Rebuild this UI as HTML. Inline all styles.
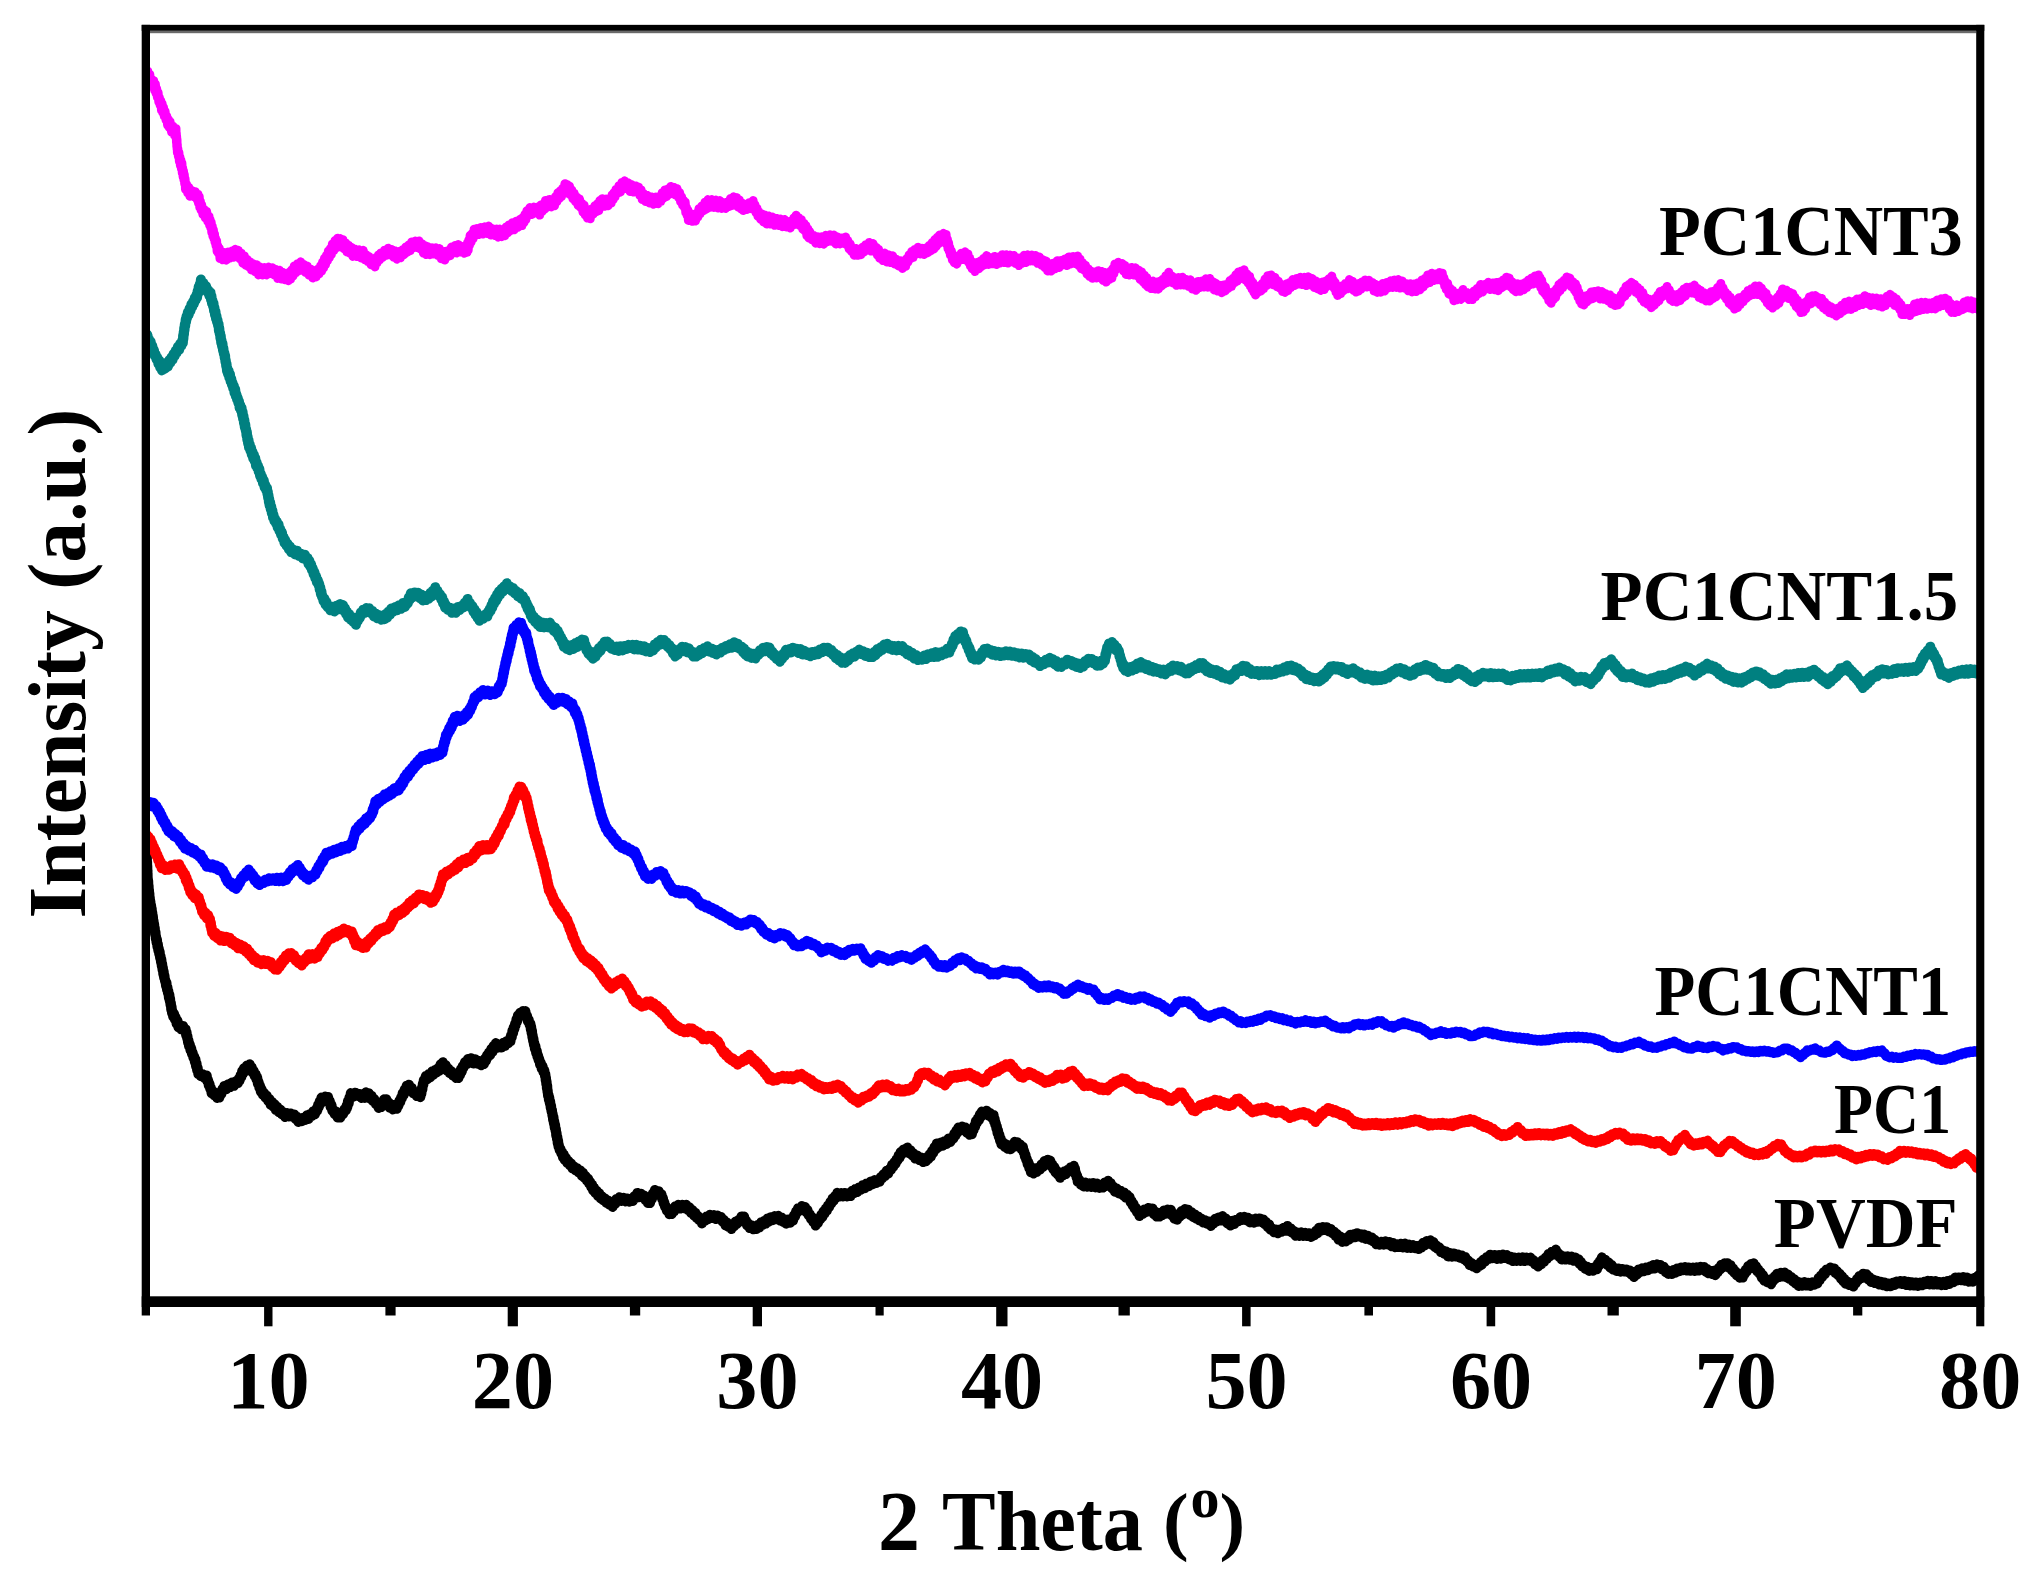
<!DOCTYPE html>
<html lang="en"><head><meta charset="utf-8"><title>XRD patterns</title>
<style>
html,body{margin:0;padding:0;background:#fff;}
body{width:2043px;height:1581px;overflow:hidden;}
svg{display:block;}
text{font-family:"Liberation Serif","Times New Roman",serif;font-weight:bold;fill:#000;}
.crv{fill:none;stroke-linejoin:round;stroke-linecap:butt;}
</style></head><body>
<svg width="2043" height="1581" viewBox="0 0 2043 1581">
<rect x="0" y="0" width="2043" height="1581" fill="#fff"/>
<clipPath id="plot"><rect x="146" y="29" width="1834" height="1273"/></clipPath>
<g clip-path="url(#plot)">
<polyline class="crv" stroke="#000000" stroke-width="10" points="145.9,838.8 146.0,844.8 146.1,842.0 146.2,848.0 146.3,846.2 146.4,852.2 146.5,850.0 146.6,856.5 146.7,854.5 146.8,859.5 146.9,857.6 147.0,863.9 147.1,861.6 147.2,867.3 147.3,865.9 147.4,872.1 147.5,870.1 147.5,876.3 147.6,873.2 147.7,879.1 147.8,878.1 148.0,883.6 148.2,881.0 148.4,887.4 148.6,885.8 148.8,891.3 149.0,889.9 149.2,895.0 149.4,893.4 149.6,899.3 149.8,897.5 150.1,902.9 150.4,901.5 150.7,907.1 151.1,905.3 151.4,910.5 151.7,908.6 152.0,915.0 152.3,912.7 152.6,918.5 152.9,916.2 153.3,923.2 153.6,921.2 153.9,926.5 154.2,924.4 154.5,930.9 154.8,928.1 155.1,934.5 155.5,932.1 155.8,938.7 156.1,936.6 156.5,942.5 157.0,939.9 157.4,946.7 157.9,944.3 158.3,950.4 158.8,948.7 159.2,953.9 159.7,951.8 160.1,958.0 160.6,956.4 161.0,962.1 161.4,959.7 161.8,966.1 162.2,964.0 162.5,969.8 162.9,967.8 163.3,974.1 163.7,971.7 164.1,977.6 164.5,975.6 165.0,981.1 165.5,980.1 166.0,985.8 166.5,982.9 167.0,989.6 167.5,987.5 167.9,993.0 168.4,991.3 168.9,997.9 169.4,994.9 169.8,1001.3 170.1,998.7 170.5,1004.8 170.9,1003.1 171.2,1009.6 171.6,1006.9 172.0,1012.9 172.4,1011.2 173.2,1016.7 174.1,1013.8 174.9,1019.5 175.8,1017.5 176.6,1023.9 177.5,1020.8 178.4,1027.2 179.2,1024.3 181.2,1029.3 183.1,1025.9 185.1,1030.5 185.6,1029.1 186.1,1035.0 186.6,1032.4 187.1,1038.1 187.5,1036.4 188.0,1042.4 188.5,1040.5 189.0,1046.1 189.8,1044.3 190.5,1050.3 191.2,1048.1 192.0,1054.1 192.7,1052.7 193.4,1057.7 194.2,1056.4 194.9,1062.1 195.5,1059.6 196.0,1066.2 196.6,1063.6 197.1,1070.1 197.7,1068.1 198.3,1074.1 198.8,1071.6 200.8,1076.2 202.7,1074.3 204.7,1078.1 206.7,1075.4 207.4,1081.3 208.1,1080.1 208.8,1085.6 209.5,1083.7 210.2,1088.9 210.9,1087.9 211.6,1093.3 212.9,1091.0 214.3,1095.4 215.7,1092.8 217.1,1097.9 218.4,1095.6 219.4,1097.5 220.4,1092.6 221.4,1094.1 222.4,1088.9 223.3,1090.7 224.3,1086.0 226.3,1089.2 228.2,1084.2 230.2,1087.1 232.2,1082.5 234.1,1085.8 236.1,1081.2 238.0,1083.0 238.9,1078.4 239.7,1080.4 240.6,1075.0 241.4,1077.0 242.2,1071.0 243.1,1073.5 243.9,1068.2 245.4,1071.3 246.9,1065.6 248.3,1068.8 249.8,1064.2 250.8,1069.6 251.8,1067.3 252.7,1072.8 253.7,1070.7 254.7,1076.1 255.7,1074.2 256.4,1079.4 257.2,1077.2 257.9,1083.9 258.6,1081.8 259.4,1087.8 260.1,1085.7 260.8,1091.8 261.6,1089.2 262.9,1094.8 264.2,1093.0 265.5,1097.6 266.8,1095.6 268.1,1100.9 269.4,1098.9 270.7,1104.9 272.0,1101.8 273.3,1106.6 274.6,1104.1 275.9,1110.1 277.3,1106.9 278.8,1112.1 280.4,1109.6 282.0,1114.3 283.5,1112.2 285.1,1117.0 287.1,1113.1 289.0,1116.4 291.0,1113.5 292.9,1117.0 294.3,1114.4 295.7,1119.1 297.1,1116.8 298.4,1121.9 299.8,1118.5 301.6,1121.3 303.3,1117.7 305.1,1120.1 306.9,1115.2 308.6,1119.0 310.2,1114.0 311.8,1116.1 313.3,1111.3 314.9,1114.4 316.5,1108.6 317.3,1110.7 318.1,1104.8 318.9,1107.2 319.7,1101.3 320.6,1103.6 321.4,1097.6 323.3,1100.7 325.3,1096.5 327.3,1098.8 328.1,1096.9 328.9,1102.8 329.8,1101.0 330.6,1107.1 331.5,1104.8 332.3,1110.8 333.1,1109.3 334.6,1114.1 336.1,1111.6 337.5,1117.4 339.0,1114.5 340.4,1117.6 341.8,1112.2 343.1,1114.1 344.5,1109.1 345.9,1110.4 346.6,1105.6 347.3,1107.4 348.0,1100.9 348.7,1103.4 349.4,1097.5 350.1,1099.3 350.8,1093.1 353.1,1096.7 355.4,1092.7 357.6,1095.9 359.6,1093.9 361.6,1097.9 363.5,1094.9 364.8,1097.9 366.1,1092.3 367.5,1095.2 368.8,1093.2 370.2,1098.7 371.6,1095.8 372.9,1101.0 374.3,1099.1 375.8,1104.1 377.3,1102.6 378.7,1107.9 380.2,1105.7 381.2,1107.1 382.2,1101.5 383.1,1104.2 384.1,1099.3 385.1,1100.7 386.3,1099.2 387.5,1104.5 388.6,1102.5 389.8,1107.8 391.0,1105.3 392.9,1109.5 394.9,1104.7 396.9,1108.7 397.7,1103.8 398.5,1105.6 399.4,1100.6 400.2,1102.4 401.1,1097.3 401.9,1098.3 402.7,1092.9 403.7,1095.0 404.7,1089.4 405.7,1091.3 406.7,1085.7 407.6,1086.9 409.0,1084.7 410.4,1091.1 411.8,1087.8 413.1,1093.2 414.5,1091.7 416.5,1096.0 418.4,1092.2 420.4,1097.2 420.9,1091.2 421.4,1093.5 421.9,1087.8 422.4,1089.4 422.8,1083.8 423.3,1085.2 423.8,1080.1 424.3,1081.3 425.9,1076.0 427.5,1079.1 429.0,1074.0 430.6,1077.0 432.2,1071.3 433.6,1074.6 435.1,1070.0 436.6,1072.5 438.0,1068.1 439.3,1070.7 440.5,1064.5 441.7,1067.1 442.9,1062.2 444.3,1067.5 445.7,1065.0 447.1,1070.7 448.4,1068.5 449.8,1073.2 451.4,1071.3 452.9,1075.6 454.5,1073.3 456.1,1077.9 457.6,1076.2 458.5,1078.0 459.3,1072.6 460.2,1074.9 461.0,1069.0 461.8,1071.6 462.7,1066.0 463.5,1067.8 465.0,1062.1 466.5,1064.4 467.9,1059.0 469.4,1061.6 471.4,1058.2 473.3,1063.5 475.3,1059.2 477.3,1063.7 479.2,1061.1 481.2,1065.2 483.1,1061.5 484.1,1064.0 485.1,1058.3 486.1,1060.6 487.1,1055.0 488.0,1057.2 489.0,1052.4 490.2,1055.1 491.3,1048.9 492.5,1052.1 493.6,1045.9 494.7,1049.0 495.9,1043.1 497.9,1047.7 500.0,1045.0 501.6,1047.5 503.3,1042.7 504.9,1046.1 506.5,1041.2 508.2,1043.4 509.8,1038.5 510.5,1041.4 511.1,1035.0 511.8,1037.1 512.4,1030.7 513.1,1033.1 513.7,1027.3 514.4,1029.1 515.1,1023.6 515.8,1024.8 516.5,1019.2 517.2,1021.3 517.9,1015.4 518.6,1017.0 520.1,1012.7 521.6,1015.1 523.0,1011.0 524.5,1013.3 525.4,1011.1 526.2,1017.4 527.0,1015.6 527.9,1021.6 528.7,1019.7 529.6,1024.8 530.4,1023.3 530.8,1029.3 531.2,1027.0 531.6,1033.1 532.0,1030.9 532.4,1037.4 532.7,1035.4 533.1,1041.0 533.5,1039.0 533.9,1044.6 534.3,1043.0 534.9,1048.9 535.5,1046.4 536.2,1053.2 536.8,1051.0 537.4,1056.8 538.0,1055.2 538.6,1060.1 539.2,1058.6 540.1,1064.9 540.9,1062.9 541.7,1068.7 542.6,1066.1 543.4,1072.1 544.3,1070.2 545.1,1076.6 545.4,1074.5 545.7,1080.4 546.0,1078.0 546.3,1084.2 546.6,1081.8 546.9,1088.4 547.2,1085.6 547.5,1092.0 547.7,1090.4 548.0,1095.6 548.5,1094.3 548.9,1099.8 549.3,1097.6 549.8,1103.2 550.2,1101.6 550.7,1107.8 551.1,1105.9 551.5,1111.5 552.0,1110.1 552.4,1115.7 552.7,1114.1 553.1,1119.8 553.5,1117.2 553.9,1123.4 554.3,1121.7 554.7,1127.6 555.1,1124.9 555.5,1130.7 555.9,1129.0 556.2,1135.4 556.6,1133.1 557.0,1139.1 557.4,1137.2 557.7,1143.3 558.1,1140.6 558.5,1146.6 558.8,1144.7 559.7,1150.3 560.5,1148.8 561.3,1153.5 562.2,1152.2 563.0,1157.5 563.9,1154.6 564.7,1160.0 566.0,1158.0 567.3,1163.0 568.6,1161.1 569.9,1165.4 571.2,1163.6 572.5,1168.5 574.1,1166.4 575.7,1170.3 577.3,1168.3 578.8,1172.5 580.4,1170.4 581.7,1175.6 583.0,1172.8 584.3,1177.8 585.6,1176.0 586.9,1180.7 588.2,1178.7 589.2,1183.7 590.2,1181.9 591.2,1187.1 592.2,1184.7 593.1,1190.5 594.1,1187.7 595.4,1193.1 596.7,1190.9 598.0,1196.0 599.3,1193.2 600.7,1198.4 602.0,1196.2 603.4,1200.4 604.9,1198.5 606.4,1202.8 607.8,1200.4 609.5,1204.7 611.1,1201.9 612.7,1206.9 614.0,1201.2 615.2,1204.0 616.4,1198.9 617.6,1200.6 619.6,1197.2 621.6,1200.9 623.5,1197.8 625.5,1201.4 627.5,1198.4 629.4,1201.7 631.4,1199.1 632.8,1201.0 634.3,1196.3 635.8,1198.0 637.3,1192.9 639.2,1197.2 641.2,1193.8 643.1,1197.8 644.3,1195.6 645.5,1200.1 646.7,1198.8 647.8,1202.9 649.0,1200.9 650.0,1203.1 651.0,1197.1 652.0,1199.1 652.9,1193.3 653.9,1195.5 654.9,1189.9 656.9,1194.3 658.8,1191.3 660.8,1196.2 661.5,1194.3 662.2,1199.3 662.9,1197.9 663.6,1203.5 664.3,1202.1 665.0,1206.9 665.7,1206.0 666.9,1210.8 668.1,1208.9 669.4,1214.2 670.6,1211.7 671.8,1214.1 672.9,1208.6 674.1,1211.4 675.3,1206.3 676.5,1208.7 678.4,1204.8 680.4,1208.6 682.4,1204.8 684.3,1208.3 686.3,1204.8 687.8,1209.9 689.4,1207.2 691.0,1212.8 692.5,1210.1 694.1,1215.5 695.4,1212.8 696.7,1218.0 698.0,1215.9 699.3,1220.2 700.7,1218.1 702.0,1223.5 703.5,1218.6 705.1,1220.8 706.7,1216.4 708.2,1219.2 709.8,1214.8 711.8,1217.9 713.7,1215.1 715.7,1219.0 717.6,1215.6 719.6,1219.0 721.1,1217.0 722.5,1221.6 724.0,1220.1 725.5,1225.5 727.0,1222.4 728.4,1226.9 729.9,1224.4 731.4,1229.1 732.7,1224.7 734.1,1226.3 735.5,1221.6 736.9,1224.0 738.2,1220.1 739.9,1221.8 741.5,1216.4 743.1,1218.1 744.1,1216.5 745.1,1222.0 746.1,1220.4 747.1,1225.4 748.0,1223.4 749.8,1228.1 751.5,1225.3 753.2,1229.3 754.9,1226.8 756.5,1229.0 758.0,1224.9 759.6,1227.3 761.2,1222.2 762.7,1224.9 764.3,1220.9 765.9,1223.6 767.5,1218.5 769.0,1221.5 770.6,1217.2 772.5,1220.3 774.5,1216.1 776.5,1219.2 778.4,1215.8 780.0,1220.4 781.6,1217.4 783.1,1221.8 784.7,1219.5 786.3,1223.7 788.2,1219.5 790.2,1222.7 792.2,1218.3 793.1,1220.5 794.1,1215.0 795.1,1216.5 796.1,1211.4 797.1,1212.8 798.0,1208.2 800.0,1210.6 802.0,1206.0 803.9,1208.7 805.1,1207.0 806.3,1212.2 807.5,1210.0 808.6,1215.3 809.8,1214.2 811.0,1218.9 812.2,1217.3 813.3,1222.1 814.5,1221.1 815.7,1225.6 816.8,1221.0 817.9,1223.3 819.0,1218.3 820.2,1219.4 821.3,1214.7 822.4,1217.1 823.5,1211.3 824.6,1213.7 825.8,1208.6 826.9,1210.6 828.0,1205.5 829.1,1207.1 830.3,1202.1 831.4,1203.4 832.5,1198.6 833.7,1200.6 834.9,1196.2 836.1,1197.8 837.3,1192.8 839.2,1196.6 841.2,1193.1 843.1,1196.4 845.1,1192.9 847.1,1196.5 849.0,1193.0 850.7,1196.1 852.3,1190.7 853.9,1193.3 855.6,1188.9 857.2,1192.1 858.8,1187.4 860.8,1189.7 862.7,1185.2 864.7,1188.3 866.7,1183.4 868.6,1186.3 870.6,1181.5 872.5,1184.4 874.5,1180.1 876.5,1183.0 878.4,1179.8 879.6,1181.7 880.8,1177.0 882.0,1178.6 883.5,1174.1 885.1,1175.9 886.7,1170.7 888.2,1173.6 889.8,1168.8 891.0,1169.8 892.1,1164.8 893.3,1166.7 894.5,1162.2 895.7,1163.6 896.6,1159.2 897.6,1160.3 898.6,1155.4 899.6,1157.8 900.6,1152.1 901.5,1154.6 903.5,1149.5 905.5,1152.2 907.4,1147.5 909.0,1153.2 910.5,1150.3 912.1,1155.2 913.7,1153.6 915.2,1158.6 917.2,1155.4 919.2,1160.0 921.1,1157.4 923.1,1162.1 925.0,1159.4 926.2,1161.2 927.4,1156.9 928.6,1158.9 929.7,1154.3 930.9,1156.6 932.1,1150.9 933.3,1152.9 934.4,1147.1 935.6,1149.4 936.8,1143.5 938.7,1147.0 940.7,1142.6 942.7,1145.7 944.6,1141.2 946.6,1144.0 948.5,1138.5 950.5,1141.9 952.4,1137.4 953.4,1138.5 954.4,1133.3 955.4,1135.7 956.4,1130.5 957.3,1133.0 958.3,1127.6 960.3,1130.5 962.2,1126.5 964.2,1129.4 965.6,1127.6 966.9,1132.8 968.3,1129.8 969.7,1134.8 971.0,1132.9 971.9,1134.3 972.7,1128.7 973.5,1130.4 974.3,1125.6 975.1,1126.8 975.9,1121.0 976.9,1123.1 977.9,1118.3 978.9,1120.4 979.9,1114.3 980.8,1117.2 981.8,1111.6 984.3,1114.6 986.7,1110.7 988.4,1115.5 990.1,1113.1 991.8,1117.7 993.6,1115.0 994.1,1121.5 994.7,1119.2 995.2,1124.5 995.8,1123.0 996.4,1128.8 996.9,1126.6 997.5,1133.0 998.1,1130.7 998.8,1136.9 999.4,1134.9 1000.1,1141.0 1000.7,1138.5 1001.4,1144.3 1003.0,1142.4 1004.5,1146.7 1006.1,1144.3 1007.7,1148.8 1009.2,1146.9 1010.6,1149.3 1012.0,1144.8 1013.3,1147.2 1014.7,1141.8 1016.1,1144.3 1017.4,1142.2 1018.8,1146.7 1020.2,1144.5 1021.6,1149.4 1022.9,1146.7 1023.6,1152.3 1024.2,1151.0 1024.9,1156.7 1025.5,1154.7 1026.2,1159.9 1026.8,1158.9 1027.7,1164.5 1028.5,1162.4 1029.3,1168.4 1030.1,1165.9 1030.9,1172.3 1031.7,1169.9 1033.5,1173.5 1035.2,1168.3 1036.9,1171.9 1038.6,1167.7 1040.1,1169.4 1041.5,1164.3 1043.0,1167.0 1044.5,1161.1 1046.1,1164.6 1047.7,1159.8 1049.4,1162.9 1050.3,1160.6 1051.3,1166.3 1052.3,1164.3 1053.3,1169.3 1054.3,1166.8 1055.4,1172.3 1056.6,1170.4 1057.8,1174.6 1059.0,1172.6 1060.1,1177.8 1061.6,1172.7 1063.1,1175.4 1064.5,1171.3 1066.0,1174.1 1067.6,1169.7 1069.1,1171.4 1070.7,1167.2 1072.3,1169.7 1073.8,1165.7 1074.4,1170.5 1075.0,1168.8 1075.5,1174.4 1076.1,1173.0 1076.6,1177.6 1077.2,1175.9 1077.7,1181.8 1079.2,1179.6 1080.7,1184.5 1082.2,1182.2 1083.6,1186.4 1085.6,1182.6 1087.5,1186.7 1089.5,1183.2 1091.5,1186.9 1093.4,1182.9 1095.4,1187.4 1097.3,1183.6 1099.3,1187.9 1101.2,1184.8 1103.0,1187.5 1104.7,1182.5 1106.4,1185.9 1108.1,1180.8 1109.5,1186.3 1110.8,1183.2 1112.2,1188.4 1113.6,1186.8 1114.9,1191.7 1116.9,1188.6 1118.9,1193.4 1120.8,1190.8 1122.8,1195.2 1124.2,1192.4 1125.7,1197.6 1127.2,1194.7 1128.7,1198.8 1129.6,1197.0 1130.6,1202.4 1131.6,1200.9 1132.6,1205.5 1133.5,1203.7 1134.5,1208.5 1135.8,1207.6 1137.0,1212.2 1138.2,1210.3 1139.4,1216.1 1141.1,1210.9 1142.8,1213.9 1144.6,1209.4 1146.3,1212.0 1148.7,1207.9 1151.2,1211.0 1152.5,1208.5 1153.9,1214.2 1155.3,1211.7 1156.7,1216.6 1158.0,1214.5 1159.5,1216.6 1161.0,1212.4 1162.4,1215.0 1163.9,1210.4 1165.9,1213.7 1167.8,1209.5 1169.8,1212.1 1170.9,1209.7 1172.1,1215.7 1173.3,1213.7 1174.5,1218.8 1175.6,1217.4 1177.1,1219.7 1178.6,1213.9 1180.0,1216.5 1181.5,1211.0 1183.1,1214.3 1184.8,1209.1 1186.4,1211.8 1188.1,1209.7 1189.8,1214.7 1191.6,1212.3 1193.3,1217.1 1194.8,1214.4 1196.4,1218.6 1198.0,1216.4 1199.5,1220.4 1201.1,1218.4 1203.1,1222.4 1205.0,1220.3 1207.0,1223.7 1208.9,1221.6 1210.9,1226.0 1212.4,1221.1 1213.8,1223.5 1215.3,1218.8 1216.8,1221.5 1218.7,1217.6 1220.7,1220.6 1222.6,1216.1 1224.2,1220.9 1225.8,1218.4 1227.3,1223.3 1228.9,1220.8 1230.5,1225.6 1232.4,1220.7 1234.4,1223.9 1236.3,1219.7 1238.3,1221.3 1240.3,1217.1 1242.2,1220.1 1244.2,1216.8 1246.1,1220.2 1248.1,1217.8 1250.0,1222.4 1252.0,1219.3 1254.0,1222.7 1255.9,1218.5 1257.9,1221.7 1259.8,1218.4 1261.8,1222.2 1263.3,1219.4 1264.7,1224.2 1266.2,1222.1 1267.7,1227.0 1269.1,1224.4 1270.5,1229.6 1272.0,1228.2 1273.9,1232.2 1275.9,1229.4 1277.8,1233.2 1279.8,1229.6 1281.7,1231.8 1283.7,1227.8 1285.7,1230.8 1287.6,1225.9 1289.2,1231.1 1290.8,1228.4 1292.3,1232.8 1293.9,1231.1 1295.5,1235.7 1297.4,1232.5 1299.4,1235.9 1301.3,1232.3 1303.3,1235.9 1305.2,1232.8 1307.2,1236.1 1309.2,1233.2 1311.1,1236.9 1313.1,1233.4 1314.5,1235.3 1316.0,1230.8 1317.5,1233.2 1318.9,1227.7 1320.9,1230.8 1322.9,1226.9 1324.8,1230.1 1326.8,1227.2 1328.7,1231.4 1330.7,1228.9 1332.7,1233.4 1334.1,1231.7 1335.6,1236.0 1337.1,1234.1 1338.5,1239.6 1340.5,1236.6 1342.4,1241.9 1344.4,1239.2 1345.9,1241.4 1347.3,1237.1 1348.8,1239.7 1350.3,1234.7 1352.0,1237.7 1353.7,1234.3 1355.4,1237.2 1357.1,1233.2 1358.9,1236.5 1360.7,1234.2 1362.4,1237.8 1364.2,1234.6 1365.9,1238.9 1367.9,1235.7 1369.9,1239.9 1371.8,1237.4 1373.3,1241.6 1374.7,1239.7 1376.2,1244.3 1377.7,1242.2 1379.6,1244.8 1381.6,1241.7 1383.6,1244.7 1385.5,1241.3 1387.5,1244.4 1389.4,1242.0 1391.4,1246.2 1393.3,1243.0 1395.3,1247.3 1397.3,1244.3 1399.2,1247.1 1401.2,1243.7 1403.1,1247.4 1405.1,1243.6 1407.1,1247.9 1409.0,1244.6 1411.0,1248.0 1412.9,1245.1 1414.9,1248.2 1416.8,1245.9 1418.8,1249.0 1420.3,1245.3 1421.7,1247.3 1423.2,1242.7 1424.7,1245.4 1426.6,1241.1 1428.6,1243.7 1430.5,1240.3 1432.0,1244.7 1433.5,1242.1 1435.0,1247.0 1436.4,1245.4 1437.9,1249.0 1439.4,1247.5 1440.8,1252.0 1442.3,1250.2 1444.3,1253.8 1446.2,1251.6 1448.2,1256.5 1450.1,1253.1 1452.1,1256.7 1454.0,1253.4 1456.0,1256.6 1458.0,1254.4 1459.9,1257.7 1461.9,1255.4 1463.8,1259.3 1465.3,1257.0 1466.8,1261.5 1468.2,1260.5 1469.7,1265.1 1471.4,1262.9 1473.1,1266.6 1474.8,1264.7 1476.6,1268.3 1477.9,1264.7 1479.3,1266.1 1480.7,1262.0 1482.0,1264.5 1483.4,1259.5 1485.1,1261.4 1486.8,1257.0 1488.6,1259.0 1490.3,1254.7 1492.5,1258.2 1494.8,1254.9 1497.1,1258.9 1499.1,1255.1 1501.0,1258.7 1503.0,1254.6 1504.9,1258.1 1506.9,1255.1 1508.9,1259.4 1510.8,1256.7 1512.8,1261.1 1514.7,1257.6 1516.7,1261.0 1518.7,1257.6 1520.6,1260.9 1522.6,1257.2 1524.5,1261.1 1526.5,1257.6 1528.4,1260.5 1530.4,1257.6 1532.0,1261.8 1533.5,1260.3 1535.1,1264.4 1536.7,1262.3 1538.2,1266.6 1539.7,1262.5 1541.2,1264.4 1542.6,1259.9 1544.1,1261.8 1545.6,1257.5 1547.0,1258.9 1548.5,1254.0 1550.0,1256.1 1551.9,1251.7 1553.9,1254.5 1555.9,1249.6 1557.0,1254.7 1558.2,1253.0 1559.4,1257.1 1560.6,1255.1 1561.7,1259.6 1563.7,1256.2 1565.6,1259.6 1567.6,1256.3 1569.6,1259.7 1571.5,1256.6 1573.5,1260.8 1575.4,1257.5 1577.4,1261.3 1578.6,1259.3 1579.7,1264.0 1580.9,1261.9 1582.1,1266.4 1583.3,1264.9 1585.2,1268.9 1587.2,1266.7 1589.1,1270.9 1591.1,1268.1 1593.1,1270.8 1595.0,1266.9 1597.0,1269.2 1597.9,1263.5 1598.9,1265.8 1599.9,1260.9 1600.9,1262.6 1601.9,1257.3 1603.6,1262.1 1605.3,1259.8 1607.0,1264.7 1608.7,1262.6 1610.2,1267.5 1611.7,1265.1 1613.1,1269.6 1614.6,1267.9 1616.5,1271.0 1618.5,1268.4 1620.5,1271.7 1622.4,1268.9 1624.4,1271.6 1626.3,1269.4 1628.3,1272.3 1629.8,1270.4 1631.2,1274.5 1632.7,1272.6 1634.2,1277.1 1635.6,1271.7 1637.1,1274.3 1638.6,1269.4 1640.0,1272.0 1642.0,1268.3 1644.0,1271.2 1645.9,1267.5 1647.9,1270.2 1649.8,1266.6 1651.6,1268.8 1653.4,1265.0 1655.1,1268.4 1656.9,1264.3 1658.6,1267.2 1660.4,1264.9 1662.1,1269.4 1663.8,1266.7 1665.5,1272.0 1667.0,1270.0 1668.5,1273.9 1670.0,1271.9 1671.8,1274.1 1673.6,1269.9 1675.5,1272.7 1677.3,1268.4 1679.2,1271.3 1681.1,1267.6 1683.1,1270.2 1685.0,1267.0 1687.0,1270.6 1688.9,1267.4 1690.9,1270.8 1692.9,1267.6 1694.8,1271.0 1696.8,1267.2 1698.7,1270.6 1700.7,1266.8 1702.7,1269.6 1704.1,1267.0 1705.6,1271.5 1707.1,1269.1 1708.5,1273.3 1710.2,1270.7 1712.0,1273.9 1713.7,1270.8 1715.4,1275.2 1716.6,1270.1 1717.7,1272.3 1718.9,1267.7 1720.1,1269.6 1721.3,1264.7 1722.9,1267.5 1724.5,1263.2 1726.1,1265.2 1727.6,1263.2 1729.1,1267.8 1730.6,1265.2 1732.0,1270.5 1733.2,1268.6 1734.4,1272.8 1735.5,1271.4 1736.7,1275.2 1737.9,1274.1 1739.9,1277.7 1741.8,1275.4 1742.8,1277.6 1743.8,1272.3 1744.7,1274.1 1745.7,1269.8 1746.7,1271.6 1748.2,1266.1 1749.6,1268.7 1751.1,1263.9 1752.6,1265.2 1753.7,1263.3 1754.9,1268.5 1756.0,1266.0 1757.1,1271.2 1758.3,1269.4 1759.4,1273.6 1760.6,1272.1 1761.8,1277.7 1763.0,1275.1 1764.1,1280.5 1765.3,1278.8 1767.3,1282.3 1769.2,1279.7 1771.2,1284.3 1772.4,1278.8 1773.5,1280.8 1774.7,1276.4 1775.9,1278.4 1777.1,1273.8 1779.0,1277.1 1781.0,1272.8 1782.9,1276.5 1784.9,1272.6 1786.5,1277.2 1788.0,1274.6 1789.6,1279.0 1791.2,1276.9 1792.7,1281.2 1794.2,1279.2 1795.7,1283.5 1797.1,1281.4 1798.6,1285.9 1800.5,1282.4 1802.5,1285.8 1804.5,1282.1 1806.4,1285.6 1808.4,1282.8 1810.3,1285.9 1812.3,1282.2 1814.3,1284.8 1816.2,1281.7 1817.4,1283.4 1818.6,1278.0 1819.7,1280.3 1820.9,1275.5 1822.1,1277.1 1823.6,1272.3 1825.0,1274.1 1826.5,1269.4 1828.0,1270.8 1830.4,1267.5 1832.9,1270.1 1834.2,1268.5 1835.6,1273.2 1837.0,1271.1 1838.3,1275.3 1839.7,1273.7 1840.9,1278.7 1842.1,1276.2 1843.2,1281.2 1844.4,1279.0 1845.6,1283.7 1847.5,1281.7 1849.5,1285.1 1851.5,1282.9 1853.4,1286.6 1854.6,1282.0 1855.8,1283.3 1856.9,1279.2 1858.1,1280.3 1859.3,1276.0 1861.2,1278.3 1863.2,1273.7 1865.2,1275.8 1866.6,1274.3 1868.1,1279.3 1869.6,1277.1 1871.0,1282.0 1873.0,1279.5 1874.9,1283.1 1876.9,1280.7 1878.9,1284.4 1880.8,1281.7 1882.8,1285.2 1884.7,1282.5 1886.7,1286.3 1888.7,1283.4 1890.6,1286.3 1892.6,1282.7 1894.5,1285.1 1896.5,1281.6 1898.4,1283.6 1900.4,1280.9 1902.4,1284.1 1904.3,1281.0 1906.3,1285.1 1908.2,1281.7 1910.2,1285.4 1912.1,1282.2 1914.1,1285.6 1916.1,1282.5 1918.0,1285.9 1920.0,1282.6 1921.9,1285.3 1923.9,1281.7 1925.9,1284.2 1927.8,1280.8 1929.8,1284.4 1931.7,1280.9 1933.7,1284.6 1935.6,1281.1 1937.6,1284.6 1939.6,1282.0 1941.5,1285.2 1943.5,1281.8 1945.4,1285.1 1947.4,1281.1 1949.3,1284.0 1951.3,1280.0 1953.3,1282.2 1955.2,1277.5 1957.2,1280.4 1959.1,1277.4 1961.1,1280.2 1963.1,1277.0 1965.0,1280.8 1967.0,1277.5 1968.9,1281.7 1970.9,1278.7 1972.8,1281.7 1974.8,1277.7 1976.8,1280.2 1978.1,1275.6 1979.4,1276.9 1980.7,1273.1"/>
<polyline class="crv" stroke="#ff0000" stroke-width="10" points="145.9,832.4 147.2,839.1 148.5,836.7 149.8,841.3 150.6,839.2 151.5,845.7 152.3,843.1 153.2,848.9 154.0,846.8 154.8,852.9 155.7,850.4 156.5,856.1 157.4,854.5 158.2,860.3 159.0,858.1 159.9,864.9 160.7,861.8 161.6,868.3 163.5,865.3 165.5,870.0 167.5,867.7 169.4,869.7 171.4,865.3 173.3,868.1 175.3,864.4 177.3,868.7 179.2,864.2 180.2,870.0 181.2,867.8 182.2,872.6 183.1,871.0 184.1,876.0 185.1,874.1 185.8,880.6 186.6,877.8 187.3,883.6 188.0,881.4 188.8,888.2 189.5,885.6 190.2,892.3 191.0,889.4 192.3,895.4 193.6,892.5 194.9,898.3 196.2,894.4 197.5,899.9 198.8,897.3 199.5,903.8 200.1,901.6 200.8,907.5 201.4,905.4 202.1,911.9 202.7,909.4 204.1,915.3 205.5,912.7 206.9,918.5 208.2,915.2 209.6,921.2 210.0,919.1 210.4,925.6 210.9,922.8 211.3,929.1 211.7,927.3 212.1,932.8 212.5,930.7 214.1,935.7 215.7,932.8 217.3,938.2 218.8,935.2 220.4,940.6 222.4,936.3 224.3,941.1 226.3,936.8 228.2,940.9 229.8,937.8 231.4,943.3 232.9,940.6 234.5,945.2 236.1,942.7 238.0,948.2 240.0,944.5 242.0,949.1 243.9,946.3 245.9,951.8 247.2,948.6 248.5,954.2 249.8,951.8 251.1,956.9 252.4,954.9 253.7,960.1 255.7,957.8 257.6,962.7 259.6,959.9 261.6,964.3 263.5,960.1 265.5,964.0 267.5,960.8 269.4,964.7 270.8,961.9 272.2,967.2 273.5,965.1 274.9,969.6 276.3,967.7 277.4,969.8 278.6,964.8 279.7,967.2 280.8,962.0 282.0,964.0 283.1,959.0 284.5,960.7 285.9,955.4 287.3,957.8 288.6,953.3 290.0,955.7 291.4,953.1 292.7,957.7 294.1,955.2 295.5,960.6 296.9,959.0 298.5,963.1 300.1,960.3 301.8,965.5 303.1,960.5 304.5,962.3 305.9,957.8 307.3,959.7 308.6,954.2 310.6,958.7 312.5,954.1 314.5,958.7 316.5,954.1 317.6,957.1 318.8,951.4 320.0,953.4 321.2,948.0 322.4,950.4 323.3,945.5 324.3,947.3 325.3,941.3 326.3,943.7 327.3,938.3 328.2,940.7 330.2,935.8 332.2,938.5 334.1,933.3 336.1,936.6 337.6,931.8 339.2,934.9 340.8,930.5 342.4,933.1 343.9,928.4 345.9,932.2 347.8,930.0 349.8,933.8 351.8,931.4 352.5,937.1 353.3,934.8 354.1,941.4 354.9,938.3 355.7,945.3 357.5,941.8 359.2,946.2 361.0,943.4 362.7,948.0 364.5,944.5 365.9,947.4 367.3,941.3 368.6,943.7 370.0,938.5 371.4,940.9 372.7,936.1 374.0,937.7 375.3,933.0 376.6,935.2 377.9,930.0 379.2,932.7 381.2,928.6 383.1,931.1 385.1,926.9 387.1,929.5 389.0,925.0 389.9,927.4 390.7,921.9 391.5,924.2 392.4,918.7 393.2,921.1 394.1,914.4 394.9,917.6 396.9,912.4 398.8,915.4 400.8,910.2 402.7,912.9 404.1,908.1 405.4,910.8 406.7,905.8 408.0,907.7 409.3,902.5 410.6,905.4 412.2,900.2 413.9,903.4 415.5,897.5 417.1,900.1 418.8,894.4 420.4,897.6 422.4,894.9 424.3,899.2 426.3,896.1 427.7,900.4 429.2,897.2 430.7,902.8 432.2,900.1 433.1,901.9 434.1,896.4 435.1,898.7 436.1,893.4 437.1,895.5 438.0,890.2 438.7,891.6 439.3,886.0 439.9,888.4 440.5,882.4 441.1,884.3 441.7,878.3 442.3,880.1 442.9,874.2 444.7,876.9 446.5,871.4 448.2,874.4 450.0,869.8 451.8,871.8 453.4,867.4 455.0,870.0 456.7,864.1 458.3,867.5 459.9,861.4 461.6,863.8 463.5,859.4 465.5,863.1 467.5,857.7 469.4,861.2 471.4,856.6 472.7,858.8 474.0,852.8 475.3,855.3 476.6,849.8 477.9,852.3 479.2,846.1 481.2,850.5 483.1,845.1 485.1,849.6 487.1,844.9 488.5,849.5 490.0,847.0 491.0,849.2 492.0,844.0 492.9,846.5 493.9,840.2 494.9,843.3 495.9,836.8 496.9,838.8 497.8,833.4 498.8,835.9 499.8,829.8 500.8,831.3 501.8,825.9 502.7,827.0 503.7,821.1 504.7,824.2 505.7,817.4 506.7,819.2 507.6,813.9 508.6,815.4 509.6,809.5 510.3,812.0 511.0,805.9 511.7,807.9 512.4,802.4 513.1,804.0 513.8,797.5 514.5,800.4 515.5,794.7 516.5,796.5 517.5,790.4 518.4,792.6 519.4,786.6 520.4,789.2 521.4,786.8 522.4,792.8 523.3,790.1 524.3,796.8 525.3,794.1 526.3,799.6 526.7,798.1 527.1,803.4 527.6,801.8 528.0,808.3 528.5,806.2 528.9,811.8 529.3,809.8 529.8,815.6 530.2,813.4 530.7,820.2 531.2,817.4 531.7,823.6 532.2,821.0 532.6,827.3 533.1,825.1 533.6,831.6 534.1,829.1 534.7,835.8 535.2,833.6 535.8,839.4 536.4,837.3 536.9,843.4 537.5,840.6 538.0,847.3 538.6,845.6 539.2,851.0 539.7,848.7 540.3,855.4 540.8,852.7 541.4,859.2 542.0,857.4 542.5,863.3 542.9,860.5 543.4,866.8 543.9,864.2 544.4,871.1 544.9,869.0 545.4,874.9 545.9,872.2 546.3,878.1 546.7,876.1 547.1,882.5 547.6,880.7 548.0,886.7 548.4,884.7 548.8,890.4 549.6,888.2 550.5,893.8 551.3,891.8 552.2,897.8 553.0,896.1 553.8,902.2 554.7,900.0 555.7,904.6 556.6,902.8 557.6,908.8 558.6,905.9 559.6,912.0 560.6,909.3 561.7,915.2 562.8,912.8 564.0,918.0 565.1,915.8 566.3,920.9 567.4,919.6 568.1,925.4 568.8,923.4 569.5,929.3 570.2,926.6 570.9,932.8 571.6,930.6 572.3,937.2 573.1,934.3 573.9,940.3 574.8,939.1 575.6,944.5 576.4,942.7 577.2,948.3 578.2,946.8 579.2,951.9 580.1,949.0 581.1,954.9 582.1,952.7 583.1,958.2 584.6,955.7 586.2,961.0 587.8,958.2 589.3,963.1 590.9,960.3 592.2,965.5 593.5,962.5 594.8,967.6 596.1,965.2 597.4,970.4 598.7,968.0 599.7,973.9 600.7,971.3 601.7,976.7 602.7,974.4 603.6,979.6 604.6,977.9 606.0,982.9 607.4,980.8 608.7,986.1 610.1,983.2 611.5,988.6 612.9,984.1 614.4,986.3 615.9,982.0 617.3,984.3 619.0,980.2 620.6,983.1 622.2,978.4 623.4,983.6 624.6,981.3 625.8,986.2 626.9,984.5 628.1,989.0 628.9,987.6 629.8,992.5 630.6,991.0 631.5,995.9 632.3,993.9 633.1,999.9 634.0,997.8 635.5,1002.5 637.1,999.6 638.7,1004.5 640.2,1002.8 641.8,1006.7 643.5,1003.2 645.2,1005.7 647.0,1001.5 648.7,1003.9 650.4,1001.3 652.2,1005.8 654.0,1003.3 655.7,1008.1 657.5,1005.7 658.8,1010.6 660.1,1008.4 661.4,1013.2 662.7,1010.4 664.0,1015.4 665.3,1013.3 666.5,1018.7 667.7,1016.4 668.8,1021.7 670.0,1019.4 671.2,1024.9 672.7,1022.3 674.3,1027.3 675.9,1025.0 677.4,1029.3 679.0,1027.1 680.7,1031.0 682.4,1028.8 684.2,1032.3 685.9,1029.8 687.5,1032.2 689.1,1028.2 690.8,1030.7 692.3,1028.5 693.9,1032.8 695.5,1030.5 697.0,1033.9 698.6,1032.3 700.1,1036.3 701.5,1034.2 703.0,1039.3 704.5,1036.8 706.4,1039.4 708.4,1035.7 710.3,1037.9 711.9,1036.0 713.5,1040.4 715.0,1038.8 716.6,1043.0 718.2,1041.3 719.1,1045.8 720.1,1044.6 721.1,1049.5 722.1,1049.2 723.4,1052.9 724.7,1051.7 726.0,1055.6 727.3,1054.3 728.6,1058.2 729.9,1056.9 731.5,1060.4 733.0,1058.6 734.6,1062.4 736.2,1060.8 737.7,1064.7 739.7,1061.0 741.7,1062.2 743.6,1058.4 745.1,1060.5 746.6,1056.5 748.0,1058.3 749.5,1054.7 751.0,1059.4 752.4,1057.8 753.9,1062.3 755.4,1060.6 756.7,1064.7 758.0,1062.9 759.3,1067.3 760.6,1065.9 761.9,1070.1 763.2,1068.7 764.4,1073.1 765.6,1071.6 766.7,1076.0 767.9,1074.8 769.1,1079.5 771.0,1076.7 773.0,1080.7 774.9,1078.4 776.9,1080.2 778.9,1076.9 780.8,1078.5 782.8,1075.7 784.7,1078.7 786.7,1076.1 788.7,1079.0 790.6,1076.1 792.6,1079.4 794.3,1076.1 796.1,1077.8 797.9,1074.4 799.6,1076.4 801.4,1073.8 803.1,1077.3 804.8,1076.2 806.5,1079.5 808.2,1078.2 809.8,1081.7 811.4,1080.0 812.9,1084.1 814.5,1082.7 816.1,1086.2 818.0,1084.5 820.0,1087.8 821.9,1086.2 823.9,1089.5 825.9,1087.0 827.8,1089.0 829.8,1086.7 831.7,1089.1 833.7,1085.5 835.6,1087.9 837.6,1084.6 839.6,1087.2 841.0,1086.0 842.5,1089.8 844.0,1089.0 845.4,1092.4 846.9,1091.9 848.4,1095.4 849.8,1094.9 851.3,1098.4 853.0,1097.1 854.7,1100.6 856.4,1098.8 858.2,1102.8 859.9,1098.9 861.6,1100.5 863.3,1096.8 865.0,1098.3 867.0,1095.4 868.9,1096.9 870.9,1093.0 872.8,1094.5 874.0,1090.9 875.2,1091.8 876.4,1088.1 877.5,1089.2 878.7,1085.3 880.7,1087.8 882.6,1084.5 884.6,1087.2 886.5,1084.3 888.5,1087.7 890.5,1086.0 892.4,1090.2 894.4,1088.4 896.3,1091.2 898.3,1088.6 900.3,1091.6 902.2,1089.5 904.2,1091.6 906.1,1088.9 908.1,1090.8 910.0,1088.1 911.4,1089.7 912.9,1085.8 914.3,1087.5 915.7,1083.4 916.4,1084.2 917.2,1079.9 918.0,1080.5 918.8,1075.4 919.6,1076.7 921.3,1073.1 923.0,1075.1 924.7,1072.4 926.4,1074.1 928.2,1072.8 930.0,1076.8 931.7,1075.5 933.5,1079.5 935.2,1077.2 937.2,1081.6 939.2,1079.6 941.1,1083.0 943.1,1081.8 945.0,1085.4 946.2,1081.0 947.4,1082.3 948.6,1078.1 949.7,1079.8 950.9,1075.7 952.9,1078.1 954.8,1075.1 956.8,1077.7 958.7,1074.7 960.7,1077.1 962.5,1074.1 964.2,1076.4 966.0,1073.2 967.7,1075.6 969.5,1072.8 971.3,1076.4 973.0,1074.7 974.8,1078.4 976.6,1076.3 978.3,1080.1 980.3,1078.4 982.2,1082.4 984.2,1080.3 985.4,1081.4 986.5,1077.1 987.7,1077.8 988.9,1073.5 990.1,1074.2 992.0,1071.2 994.0,1073.0 995.9,1069.7 997.9,1071.5 999.4,1067.7 1000.8,1069.4 1002.3,1066.1 1003.8,1067.7 1006.1,1064.2 1008.3,1066.7 1010.6,1063.7 1012.0,1068.3 1013.4,1066.7 1014.7,1071.5 1016.1,1070.3 1017.5,1074.2 1018.8,1072.8 1020.1,1076.9 1021.4,1076.0 1023.3,1077.7 1025.3,1073.9 1027.3,1075.3 1029.2,1071.9 1031.2,1075.2 1033.1,1073.5 1035.1,1077.2 1037.1,1075.7 1038.6,1079.2 1040.2,1077.3 1041.8,1080.9 1043.3,1079.5 1044.9,1082.9 1046.8,1080.3 1048.8,1082.3 1050.8,1079.2 1052.7,1080.9 1054.2,1077.3 1055.7,1079.1 1057.1,1074.8 1058.6,1076.4 1060.5,1074.4 1062.5,1078.7 1064.5,1076.9 1065.8,1077.8 1067.2,1073.5 1068.6,1075.6 1069.9,1071.4 1071.3,1072.7 1072.7,1070.8 1074.1,1075.3 1075.4,1073.7 1076.8,1078.0 1078.2,1076.8 1079.3,1080.5 1080.5,1079.7 1081.7,1083.5 1082.9,1082.4 1084.0,1086.2 1086.0,1083.6 1088.0,1086.1 1089.9,1083.2 1091.9,1086.0 1093.8,1084.5 1095.8,1088.0 1097.7,1086.7 1099.7,1089.8 1101.7,1087.4 1103.6,1090.3 1105.6,1087.8 1107.5,1090.4 1109.1,1086.1 1110.7,1087.4 1112.2,1083.7 1113.8,1085.3 1115.4,1081.5 1117.1,1083.1 1118.9,1080.0 1120.7,1081.9 1122.4,1078.2 1124.2,1080.3 1125.9,1078.7 1127.6,1082.9 1129.3,1081.5 1131.0,1084.8 1132.5,1083.5 1134.0,1086.8 1135.4,1085.7 1136.9,1088.9 1138.9,1086.4 1140.8,1089.1 1142.8,1086.4 1144.7,1089.4 1146.3,1087.7 1147.9,1091.0 1149.4,1089.7 1151.0,1093.1 1152.6,1091.4 1154.5,1094.0 1156.5,1092.3 1158.4,1095.2 1160.4,1093.0 1162.4,1096.2 1163.9,1094.6 1165.5,1098.1 1167.1,1096.6 1168.6,1100.6 1170.2,1099.5 1171.7,1100.9 1173.1,1097.4 1174.6,1099.1 1176.1,1095.2 1177.7,1096.7 1179.3,1092.4 1181.0,1093.9 1182.1,1092.6 1183.3,1096.7 1184.5,1096.2 1185.7,1100.4 1186.8,1099.6 1188.0,1103.6 1189.1,1102.5 1190.3,1107.2 1191.4,1106.2 1192.5,1110.4 1193.7,1110.0 1195.3,1111.3 1196.8,1107.8 1198.4,1108.9 1200.0,1105.1 1201.5,1106.4 1203.5,1104.0 1205.4,1105.7 1207.4,1102.4 1209.3,1104.9 1211.3,1101.3 1213.3,1103.0 1215.2,1099.7 1217.2,1101.4 1219.1,1100.4 1221.1,1103.9 1223.1,1101.9 1225.0,1105.5 1227.0,1103.2 1228.9,1106.0 1230.9,1104.1 1232.3,1104.9 1233.6,1101.6 1235.0,1102.3 1236.4,1099.0 1237.7,1099.7 1239.1,1098.5 1240.5,1102.0 1241.9,1100.7 1243.2,1104.1 1244.6,1103.2 1246.2,1107.0 1247.7,1106.0 1249.3,1110.0 1250.9,1109.0 1252.4,1112.4 1254.4,1109.6 1256.3,1111.4 1258.3,1108.3 1260.3,1110.5 1262.2,1107.8 1264.2,1109.8 1266.1,1107.2 1268.1,1110.8 1270.0,1108.9 1272.0,1112.5 1274.0,1111.3 1275.9,1113.2 1277.9,1110.8 1279.8,1112.6 1281.8,1110.4 1283.4,1113.7 1284.9,1112.1 1286.5,1116.0 1288.1,1114.7 1289.6,1118.1 1291.6,1115.3 1293.5,1116.8 1295.5,1113.8 1297.5,1115.2 1299.6,1112.6 1301.7,1114.4 1303.6,1112.0 1305.6,1115.4 1307.5,1113.3 1309.5,1115.8 1311.0,1115.4 1312.4,1119.3 1313.9,1117.9 1315.4,1122.0 1316.5,1118.3 1317.7,1119.4 1318.9,1115.8 1320.1,1116.7 1321.2,1112.9 1323.0,1114.2 1324.7,1110.4 1326.4,1111.6 1328.1,1107.9 1329.9,1110.9 1331.6,1109.1 1333.4,1112.4 1335.1,1110.1 1336.9,1113.2 1338.9,1111.7 1340.8,1115.1 1342.8,1113.1 1344.7,1116.5 1346.7,1114.5 1348.3,1118.2 1349.8,1117.5 1351.4,1121.3 1353.0,1120.3 1354.5,1124.2 1356.5,1121.8 1358.4,1124.7 1360.4,1122.8 1362.4,1125.7 1364.3,1123.5 1366.3,1125.6 1368.2,1123.1 1370.2,1125.2 1372.1,1123.1 1374.1,1125.0 1376.1,1122.8 1378.0,1125.3 1380.0,1123.3 1381.9,1126.0 1383.9,1123.5 1385.9,1125.6 1387.8,1123.0 1389.8,1125.4 1391.7,1122.9 1393.7,1125.0 1395.6,1122.3 1397.6,1124.9 1399.6,1122.1 1401.5,1124.4 1403.5,1121.9 1405.4,1123.6 1407.4,1121.2 1409.3,1122.7 1411.3,1119.9 1413.3,1121.9 1415.2,1119.2 1417.2,1121.2 1419.1,1119.8 1421.1,1122.9 1423.1,1121.3 1425.0,1124.0 1427.0,1122.8 1428.9,1125.8 1430.9,1123.2 1432.8,1125.5 1434.8,1123.4 1436.8,1124.9 1438.7,1123.2 1440.7,1124.9 1442.6,1122.7 1444.6,1125.0 1446.5,1123.3 1448.5,1125.6 1450.5,1123.2 1452.4,1126.2 1454.4,1122.8 1456.3,1124.8 1458.3,1121.8 1460.3,1123.4 1462.2,1120.6 1464.2,1122.4 1466.1,1120.1 1468.1,1122.0 1470.0,1119.1 1472.0,1121.2 1474.0,1119.8 1475.9,1122.8 1477.9,1121.7 1479.8,1125.0 1481.8,1123.8 1483.7,1126.9 1485.7,1124.9 1487.7,1128.0 1489.6,1127.0 1491.6,1130.0 1493.3,1128.7 1494.9,1132.2 1496.6,1131.4 1498.3,1134.7 1500.0,1133.8 1502.0,1136.2 1503.9,1134.0 1505.9,1136.0 1507.8,1134.1 1509.5,1135.0 1511.1,1131.8 1512.7,1132.5 1514.4,1129.6 1516.0,1130.6 1517.6,1126.9 1519.2,1130.9 1520.8,1129.8 1522.3,1133.6 1523.9,1132.9 1525.5,1136.0 1527.4,1133.7 1529.4,1135.5 1531.3,1133.7 1533.3,1135.6 1535.2,1133.2 1537.2,1135.0 1539.2,1133.1 1541.1,1135.4 1543.1,1133.4 1545.0,1135.4 1547.0,1133.4 1548.9,1135.7 1550.9,1133.8 1552.9,1135.9 1554.8,1133.2 1556.8,1134.8 1558.7,1132.1 1560.7,1134.1 1562.7,1131.1 1564.6,1133.0 1566.6,1130.4 1568.5,1131.6 1570.5,1129.1 1572.1,1132.0 1573.6,1130.9 1575.2,1134.2 1576.7,1132.9 1578.3,1136.0 1579.9,1135.3 1581.4,1138.3 1583.0,1137.2 1584.6,1140.0 1586.1,1139.2 1588.1,1141.5 1590.1,1139.8 1592.0,1142.0 1594.0,1140.8 1595.9,1142.9 1597.9,1140.2 1599.9,1141.6 1601.8,1139.3 1603.8,1140.7 1605.7,1137.9 1607.3,1139.3 1608.9,1135.9 1610.4,1137.3 1612.0,1134.2 1613.6,1135.4 1615.5,1133.1 1617.5,1134.5 1619.4,1132.6 1621.4,1134.4 1623.0,1133.4 1624.5,1137.2 1626.1,1135.9 1627.7,1139.9 1629.2,1138.9 1631.2,1140.7 1633.1,1138.2 1635.1,1140.4 1637.1,1138.2 1639.0,1140.3 1641.0,1138.7 1642.9,1140.5 1644.9,1138.9 1646.8,1141.9 1648.8,1140.2 1650.8,1143.4 1652.7,1142.1 1654.7,1143.9 1656.6,1141.1 1658.6,1143.3 1660.5,1140.9 1662.0,1144.1 1663.5,1143.6 1665.0,1146.7 1666.4,1145.6 1667.9,1148.6 1669.4,1147.6 1670.8,1151.0 1672.3,1149.9 1673.3,1150.3 1674.3,1146.7 1675.2,1146.8 1676.2,1143.2 1677.2,1143.9 1678.2,1139.9 1679.9,1140.5 1681.6,1137.2 1683.3,1138.4 1685.0,1134.8 1686.2,1138.4 1687.3,1138.1 1688.4,1141.3 1689.6,1141.1 1690.7,1144.4 1691.9,1143.9 1693.8,1145.8 1695.8,1143.2 1697.7,1145.1 1699.7,1142.6 1701.7,1144.5 1703.6,1142.0 1705.6,1143.3 1707.5,1140.6 1709.0,1144.3 1710.5,1143.6 1711.9,1146.7 1713.4,1145.9 1714.9,1149.3 1716.3,1148.6 1717.8,1152.1 1719.3,1151.9 1720.5,1152.2 1721.6,1148.4 1722.8,1148.8 1724.0,1145.2 1725.2,1146.0 1726.6,1143.1 1728.1,1144.0 1729.6,1140.8 1731.0,1142.1 1732.6,1141.1 1734.2,1144.2 1735.7,1143.5 1737.3,1146.5 1738.9,1145.9 1740.4,1148.8 1742.0,1148.0 1743.6,1150.6 1745.1,1149.9 1746.7,1152.7 1748.7,1151.3 1750.6,1154.0 1752.6,1152.7 1754.5,1155.1 1756.5,1153.8 1758.4,1155.1 1760.4,1153.1 1762.4,1154.7 1764.3,1151.9 1766.3,1153.9 1767.8,1150.7 1769.4,1151.2 1771.0,1148.4 1772.5,1148.9 1774.1,1145.9 1776.1,1146.6 1778.0,1143.9 1780.0,1145.0 1781.2,1144.3 1782.3,1147.9 1783.5,1147.9 1784.7,1151.3 1785.9,1150.8 1787.4,1153.6 1789.0,1152.9 1790.6,1155.5 1792.1,1154.8 1793.7,1157.5 1795.6,1155.8 1797.6,1157.6 1799.6,1155.5 1801.5,1157.5 1803.5,1155.7 1805.4,1156.6 1807.4,1153.5 1809.3,1154.8 1811.3,1151.5 1813.3,1152.5 1815.2,1150.6 1817.2,1152.6 1819.1,1150.7 1821.1,1152.7 1823.1,1150.7 1825.0,1152.6 1827.0,1150.7 1828.9,1151.8 1830.9,1149.5 1832.8,1151.6 1834.8,1149.1 1836.8,1150.5 1838.7,1149.4 1840.7,1152.3 1842.6,1151.2 1844.6,1154.0 1846.5,1152.9 1848.5,1155.5 1850.5,1154.5 1852.4,1157.7 1854.4,1156.4 1856.3,1159.5 1858.3,1156.8 1860.3,1158.6 1862.2,1155.9 1864.2,1157.4 1866.1,1154.9 1868.1,1156.2 1870.0,1154.1 1872.0,1155.8 1874.0,1153.9 1875.9,1155.8 1877.9,1154.6 1879.8,1157.4 1881.8,1156.5 1883.7,1159.3 1885.7,1158.6 1887.7,1160.0 1889.6,1157.1 1891.6,1158.2 1893.5,1155.4 1895.1,1156.6 1896.8,1153.2 1898.4,1154.3 1900.0,1150.7 1901.9,1153.0 1903.9,1150.8 1905.9,1152.9 1907.8,1151.1 1909.8,1152.8 1911.7,1151.5 1913.7,1153.4 1915.6,1152.1 1917.6,1154.4 1919.6,1152.7 1921.5,1154.8 1923.5,1153.2 1925.4,1155.3 1927.4,1153.8 1929.3,1155.7 1931.3,1154.2 1933.3,1156.9 1935.2,1155.4 1937.2,1157.6 1938.7,1157.1 1940.3,1159.7 1941.9,1158.6 1943.4,1161.7 1945.0,1160.7 1947.0,1163.4 1948.9,1162.0 1950.9,1164.0 1952.8,1162.8 1954.3,1163.3 1955.8,1160.4 1957.2,1161.1 1958.7,1158.1 1960.4,1158.9 1962.1,1156.0 1963.9,1156.9 1965.6,1154.1 1966.9,1157.2 1968.3,1156.3 1969.7,1159.5 1971.1,1158.4 1972.4,1161.7 1973.4,1161.6 1974.4,1164.5 1975.4,1164.0 1976.3,1167.6 1977.8,1166.6 1979.3,1169.5 1980.7,1168.4 1982.2,1171.7"/>
<polyline class="crv" stroke="#0000ff" stroke-width="10" points="145.9,800.9 147.8,805.2 149.8,801.9 151.8,806.4 153.7,802.8 155.7,807.0 156.5,805.8 157.4,811.3 158.3,809.0 159.1,814.0 160.0,811.6 160.8,817.7 161.7,815.2 162.5,821.1 163.5,818.9 164.5,824.1 165.5,822.3 166.5,828.2 167.5,825.8 168.4,831.4 169.4,829.0 171.0,833.5 172.5,831.3 174.1,836.4 175.7,834.1 177.3,838.2 178.6,836.4 179.9,841.9 181.2,839.8 182.5,845.5 183.8,843.1 185.1,848.8 187.1,846.0 189.0,850.6 191.0,848.0 192.9,852.7 194.5,849.7 196.1,854.2 197.6,852.8 199.2,856.7 200.8,854.4 202.0,859.8 203.1,858.2 204.3,863.2 205.5,861.9 206.7,866.8 208.6,864.1 210.6,867.5 212.5,864.3 214.5,868.3 216.5,865.5 218.4,870.2 220.4,867.3 222.4,872.2 223.2,870.2 224.0,874.8 224.9,873.4 225.7,878.9 226.6,876.7 227.4,881.9 228.2,880.3 229.8,884.4 231.4,882.5 232.9,887.0 234.5,885.4 236.1,888.9 237.1,884.4 238.0,886.5 239.0,881.8 240.0,883.1 241.0,878.2 242.0,879.3 243.3,875.3 244.7,877.1 246.1,872.0 247.5,873.7 248.8,869.5 250.0,873.8 251.1,872.4 252.3,877.0 253.4,875.2 254.5,880.5 255.7,878.5 257.0,883.3 258.3,881.3 259.6,885.0 261.6,881.4 263.5,883.1 265.5,879.7 267.5,881.4 269.4,878.2 271.4,880.8 273.3,878.3 275.3,881.1 277.3,877.7 279.2,881.2 281.2,877.6 283.1,881.2 285.1,878.5 286.3,880.0 287.5,875.2 288.6,876.9 289.8,872.1 291.0,873.8 292.4,869.0 293.7,871.4 295.1,867.1 296.5,869.2 297.8,864.9 298.8,869.3 299.8,867.4 300.8,872.6 301.8,870.9 302.7,875.2 304.2,873.6 305.7,877.7 307.2,876.0 308.6,879.7 310.6,875.4 312.5,877.2 314.5,873.4 315.5,874.8 316.5,869.8 317.5,871.2 318.4,866.1 319.4,867.9 320.4,863.1 321.4,863.9 322.4,859.2 323.3,861.5 324.3,856.4 325.3,857.8 326.3,852.7 328.2,855.2 330.2,851.4 332.2,853.7 334.1,849.8 336.1,852.4 338.0,848.5 340.0,851.0 342.0,846.8 343.9,849.5 345.9,845.9 347.8,848.6 349.8,844.2 351.8,846.2 352.3,840.7 352.9,842.3 353.4,837.4 354.0,838.6 354.6,832.9 355.1,834.3 355.7,829.4 357.0,831.3 358.3,826.2 359.6,828.8 360.9,823.5 362.2,825.9 363.5,821.5 364.8,823.9 366.1,818.2 367.5,821.0 368.8,816.3 370.1,818.1 371.4,813.4 372.0,814.9 372.7,809.1 373.3,811.7 374.0,805.9 374.6,807.2 375.3,801.2 376.9,804.5 378.4,798.8 380.0,801.8 381.6,797.2 383.1,799.4 384.7,794.3 386.3,797.4 387.8,792.9 389.4,795.6 391.0,790.8 392.5,793.7 394.1,788.3 395.7,791.4 397.3,787.4 398.8,790.4 399.9,783.7 401.1,787.1 402.2,780.9 403.3,783.7 404.4,776.9 405.5,779.4 406.7,773.8 408.0,776.9 409.3,770.6 410.6,773.2 411.9,767.8 413.2,769.7 414.5,764.6 415.8,766.5 417.1,761.5 418.4,764.1 419.7,758.7 421.0,761.2 422.4,755.9 424.3,760.1 426.3,754.7 428.2,759.1 430.2,753.6 432.2,757.6 434.1,753.5 436.1,756.6 438.0,752.1 440.0,754.9 442.0,750.3 442.5,752.6 442.9,746.7 443.4,749.2 443.9,742.6 444.4,744.6 444.9,739.1 445.4,741.3 445.9,734.9 446.7,737.5 447.6,731.7 448.4,733.5 449.2,728.1 450.1,730.8 450.9,725.1 451.8,727.5 452.7,720.6 453.7,723.5 454.7,716.8 455.7,718.7 457.6,715.7 459.6,721.0 461.6,717.7 462.9,719.7 464.2,714.9 465.5,717.3 466.8,712.1 468.1,714.7 469.4,709.0 470.3,710.8 471.1,706.0 471.9,707.1 472.8,702.0 473.6,703.1 474.5,697.0 475.3,700.1 476.9,694.9 478.4,697.3 480.0,692.3 481.6,694.7 483.1,689.9 485.4,694.4 487.7,690.6 490.0,695.0 492.3,691.2 494.6,694.3 496.9,690.6 497.8,692.3 498.8,686.0 499.8,688.1 500.8,682.8 501.8,684.0 502.2,678.5 502.5,680.6 502.9,674.1 503.3,676.4 503.7,670.2 504.1,672.7 504.5,666.7 504.9,668.5 505.3,662.7 505.7,665.0 506.2,658.9 506.7,661.1 507.2,654.9 507.6,656.6 508.1,650.9 508.6,653.2 509.1,647.5 509.6,649.0 510.0,643.2 510.5,645.6 510.9,638.7 511.4,641.1 511.8,634.8 512.2,637.6 512.7,631.6 513.1,633.3 513.5,627.8 514.9,630.6 516.3,624.9 517.6,628.4 519.0,622.3 520.4,625.7 521.2,622.9 522.1,629.0 522.9,627.0 523.8,632.4 524.6,630.5 525.4,635.2 526.3,633.0 526.8,638.7 527.3,637.7 527.7,642.7 528.2,640.7 528.7,646.7 529.2,645.6 529.7,651.4 530.2,649.4 530.6,655.4 531.1,652.7 531.5,659.3 531.9,656.3 532.4,662.9 532.8,660.4 533.2,666.2 533.7,664.3 534.1,670.7 534.8,668.3 535.5,674.1 536.2,672.2 536.9,679.0 537.6,676.9 538.3,682.2 539.0,680.3 540.0,686.4 541.0,684.0 542.0,689.0 542.9,687.4 543.9,692.9 544.9,690.1 545.9,696.0 547.2,693.7 548.5,699.0 549.8,696.7 551.1,701.9 552.4,699.9 553.7,705.0 555.4,699.4 557.0,702.9 558.6,697.7 560.6,701.6 562.5,697.8 564.5,702.3 566.1,699.0 567.6,704.4 569.2,701.5 570.8,706.9 572.4,703.4 573.2,709.2 574.0,707.7 574.9,713.2 575.7,710.1 576.6,716.3 577.4,714.0 578.2,719.9 578.7,718.0 579.2,723.3 579.7,721.9 580.2,727.6 580.7,725.7 581.2,731.1 581.7,729.1 582.2,735.9 582.6,733.5 583.0,739.5 583.5,737.3 583.9,743.6 584.3,741.0 584.8,746.8 585.2,745.4 585.6,750.5 586.1,749.0 586.6,754.8 587.1,753.3 587.5,758.7 588.0,757.0 588.5,763.1 589.0,761.1 589.5,767.3 590.0,764.7 590.4,770.8 590.7,768.6 591.1,775.0 591.5,772.1 591.8,778.6 592.2,776.4 592.6,782.7 592.9,779.9 593.4,786.2 593.9,784.0 594.4,790.8 594.9,788.2 595.4,793.9 595.9,792.4 596.4,798.3 596.9,795.8 597.4,802.5 597.8,799.6 598.3,805.6 598.8,804.3 599.3,809.5 599.8,808.2 600.3,813.9 600.8,811.4 601.5,818.0 602.2,816.0 602.9,821.9 603.6,819.9 604.3,825.3 605.0,823.4 605.7,828.8 606.9,827.6 608.0,832.8 609.2,830.6 610.4,835.4 611.6,833.4 612.9,838.9 614.2,837.3 615.5,841.8 616.8,840.1 618.1,845.2 619.4,843.7 621.4,847.9 623.3,844.9 625.3,849.6 627.3,847.3 629.2,851.3 631.2,849.5 633.1,853.8 635.1,851.6 635.9,856.9 636.7,854.8 637.5,860.1 638.4,858.7 639.2,864.2 640.0,862.8 641.0,868.5 642.0,867.2 642.9,872.3 643.9,870.8 644.9,876.3 646.5,874.5 648.2,878.9 649.8,876.5 651.5,878.9 653.2,874.4 655.0,876.0 656.7,872.0 658.6,874.6 660.6,871.1 662.5,874.3 663.5,872.9 664.5,877.7 665.5,876.8 666.5,882.0 667.5,880.8 668.4,885.5 669.4,883.7 670.4,888.1 671.4,886.7 672.4,891.3 674.3,889.4 676.3,892.8 678.2,890.1 680.2,893.6 682.2,890.6 684.1,893.6 686.1,890.9 688.0,893.3 689.6,892.3 691.2,896.1 692.7,894.1 694.3,898.3 695.9,896.4 696.9,900.8 697.9,899.8 699.0,903.8 700.0,902.4 702.0,905.8 703.9,904.3 705.9,907.6 707.8,905.6 709.8,909.2 711.7,907.7 713.7,911.2 715.7,909.5 717.6,913.4 719.6,911.7 721.2,915.4 722.8,913.8 724.5,916.9 726.1,915.8 727.7,918.8 729.4,917.2 731.0,921.2 732.6,919.7 734.3,922.7 735.9,921.5 737.5,925.1 739.2,923.1 741.4,925.7 743.7,922.6 746.0,924.6 747.5,921.5 748.9,922.7 750.4,919.4 751.9,921.0 753.6,919.9 755.3,923.2 757.0,921.9 758.7,925.5 759.9,924.7 761.1,929.3 762.3,927.8 763.4,932.0 764.6,931.2 766.6,934.7 768.5,933.1 770.5,936.9 772.4,935.1 774.4,938.4 776.4,934.9 778.3,936.6 780.3,933.1 782.2,934.8 783.9,933.6 785.7,936.7 787.4,935.1 789.1,938.5 790.3,937.9 791.5,941.9 792.8,941.5 794.0,945.3 795.9,944.0 797.9,946.6 799.9,944.9 801.6,946.3 803.3,943.0 805.0,944.6 806.7,940.8 808.5,943.7 810.2,942.1 812.0,945.2 813.8,943.7 815.5,946.2 817.0,945.7 818.5,948.9 819.9,948.5 821.4,952.4 823.3,949.3 825.3,950.9 827.3,947.6 829.2,949.0 831.2,947.8 833.1,951.2 835.1,949.7 837.1,953.2 839.0,951.8 841.0,955.0 842.9,953.7 844.5,955.3 846.1,951.7 847.6,953.1 849.2,949.8 850.8,951.1 852.7,949.0 854.7,950.5 856.6,948.6 858.6,950.2 860.5,948.2 861.5,951.9 862.5,951.4 863.5,955.5 864.5,955.1 865.4,959.0 866.9,958.0 868.4,960.9 869.8,959.7 871.3,962.8 872.7,959.8 874.1,960.7 875.4,957.1 876.8,958.1 878.2,955.0 880.1,957.7 882.1,956.1 884.0,958.8 886.0,958.1 888.0,960.7 889.9,959.6 891.9,960.7 893.8,957.9 895.8,958.8 897.7,956.0 899.7,957.4 901.7,955.3 903.6,956.8 905.6,955.9 907.5,958.2 909.5,957.3 911.5,959.9 913.0,957.1 914.6,957.7 916.2,954.9 917.7,956.0 919.3,952.8 920.8,953.8 922.2,951.0 923.7,952.1 925.2,949.3 926.3,952.8 927.5,951.9 928.7,955.0 929.9,954.5 931.0,957.8 932.2,957.6 933.4,961.4 934.6,961.4 935.7,964.7 936.9,964.6 938.9,966.8 940.8,964.9 942.8,967.2 944.7,965.1 946.7,967.4 948.7,965.9 950.2,966.2 951.8,962.8 953.4,963.7 954.9,960.3 956.5,960.6 958.2,958.2 959.9,960.2 961.6,957.3 963.3,958.6 965.1,958.4 966.8,961.1 968.5,960.7 970.2,963.5 971.7,963.3 973.1,966.3 974.6,965.2 976.1,968.5 978.0,966.7 980.0,969.1 981.9,967.3 983.9,969.9 985.4,968.7 986.8,971.8 988.3,971.5 989.8,974.6 991.7,972.4 993.7,974.3 995.6,972.7 997.6,974.7 999.6,971.8 1001.5,972.5 1003.5,969.7 1005.4,972.2 1007.4,970.4 1009.3,972.9 1011.3,971.5 1013.3,973.7 1015.2,971.4 1017.2,973.6 1019.1,971.4 1020.7,974.4 1022.3,973.6 1023.8,976.3 1025.4,975.4 1027.0,978.4 1028.4,978.1 1029.9,981.1 1031.4,980.9 1032.8,984.3 1034.3,983.3 1035.8,986.1 1037.2,985.4 1038.7,988.0 1040.7,986.1 1042.6,987.5 1044.6,985.8 1046.5,987.5 1048.5,985.3 1050.5,987.3 1052.4,986.3 1054.4,988.5 1056.3,986.9 1058.3,989.3 1059.7,988.4 1061.0,991.4 1062.4,990.7 1063.8,993.9 1065.1,993.4 1066.9,993.7 1068.6,991.0 1070.3,991.2 1072.0,988.1 1073.5,988.9 1074.9,986.4 1076.4,987.0 1077.9,984.6 1079.8,987.0 1081.8,986.0 1083.7,988.1 1085.7,987.6 1087.7,989.7 1089.6,988.3 1091.6,990.3 1093.5,989.5 1094.8,992.9 1096.1,992.8 1097.4,996.0 1098.7,996.1 1100.0,999.4 1102.0,997.9 1103.9,999.9 1105.9,998.4 1107.8,1000.1 1109.8,997.8 1111.7,998.1 1113.7,995.6 1115.7,996.2 1117.6,994.0 1119.6,996.4 1121.5,995.4 1123.5,997.8 1125.5,996.9 1127.4,998.8 1129.4,997.8 1131.3,999.9 1133.3,998.6 1135.0,999.7 1136.8,997.4 1138.6,998.7 1140.3,996.4 1142.1,997.4 1143.9,996.5 1145.6,998.7 1147.4,997.9 1149.1,1000.5 1150.9,999.5 1152.9,1001.9 1154.8,1001.2 1156.8,1003.6 1158.7,1002.7 1160.7,1004.9 1162.3,1004.8 1164.0,1007.4 1165.6,1007.2 1167.2,1009.7 1168.9,1009.3 1170.5,1011.9 1171.8,1009.0 1173.1,1009.1 1174.4,1006.2 1175.7,1006.0 1177.0,1002.9 1178.3,1003.1 1180.3,1001.4 1182.2,1002.5 1184.2,1001.0 1186.1,1002.1 1188.1,1001.4 1190.1,1004.3 1192.0,1003.4 1194.0,1006.3 1195.3,1006.0 1196.6,1009.2 1197.9,1009.0 1199.2,1011.9 1200.5,1011.8 1201.8,1015.0 1203.8,1014.0 1205.7,1016.3 1207.7,1015.6 1209.6,1017.7 1211.6,1015.2 1213.6,1016.0 1215.5,1013.5 1217.5,1014.1 1219.4,1012.3 1221.4,1013.1 1223.3,1011.4 1225.3,1013.8 1227.3,1013.4 1229.2,1015.9 1231.2,1015.6 1232.6,1018.1 1234.1,1018.0 1235.6,1020.4 1237.1,1020.4 1238.8,1022.3 1240.5,1021.2 1242.2,1023.1 1243.9,1022.5 1245.7,1023.2 1247.4,1021.6 1249.2,1022.3 1251.0,1020.9 1252.7,1021.8 1254.7,1019.8 1256.6,1020.9 1258.6,1018.7 1260.5,1019.9 1262.5,1017.4 1264.5,1017.6 1266.4,1015.5 1268.4,1015.8 1270.3,1015.0 1272.3,1017.0 1274.3,1016.3 1276.2,1018.3 1278.2,1017.5 1280.1,1019.2 1282.1,1018.2 1284.0,1020.3 1286.0,1019.4 1288.0,1021.2 1289.9,1020.4 1291.9,1022.3 1293.8,1021.9 1295.8,1023.6 1297.7,1021.9 1299.7,1022.7 1301.7,1021.3 1303.6,1021.9 1305.6,1020.2 1307.5,1022.0 1309.5,1021.0 1311.5,1022.9 1313.4,1021.7 1315.4,1023.4 1317.3,1022.0 1319.3,1022.7 1321.2,1021.2 1323.2,1022.0 1325.2,1020.5 1326.6,1022.7 1328.1,1022.5 1329.6,1024.5 1331.0,1024.4 1333.0,1026.4 1334.9,1025.8 1336.9,1027.7 1338.9,1027.4 1340.8,1028.5 1342.8,1027.2 1344.7,1028.5 1346.7,1027.1 1348.7,1028.6 1350.6,1026.3 1352.6,1026.4 1354.5,1024.2 1356.5,1024.7 1358.4,1023.5 1360.4,1025.2 1362.4,1024.0 1364.3,1025.5 1366.3,1024.2 1368.2,1024.9 1370.2,1023.5 1372.1,1024.7 1374.1,1022.4 1376.1,1023.1 1378.0,1021.0 1380.0,1021.8 1381.5,1021.2 1383.1,1023.7 1384.7,1023.3 1386.2,1025.6 1387.8,1025.4 1389.8,1026.7 1391.7,1025.9 1393.7,1027.7 1395.6,1025.5 1397.6,1025.9 1399.6,1023.9 1401.5,1024.4 1403.5,1022.2 1405.4,1024.2 1407.4,1023.3 1409.3,1025.2 1411.3,1024.8 1413.3,1026.5 1415.2,1025.8 1417.2,1027.6 1419.1,1026.6 1421.1,1028.6 1422.7,1028.4 1424.4,1030.6 1426.0,1030.7 1427.6,1033.0 1429.3,1033.0 1430.9,1035.2 1432.8,1033.5 1434.8,1034.3 1436.8,1032.5 1438.7,1033.0 1440.7,1031.2 1442.6,1032.9 1444.6,1032.0 1446.5,1034.0 1448.5,1033.1 1450.5,1033.8 1452.4,1032.2 1454.4,1033.0 1456.3,1031.6 1458.3,1032.5 1460.3,1031.7 1462.2,1033.3 1464.2,1032.5 1466.1,1034.5 1468.1,1034.2 1470.0,1036.2 1472.0,1036.2 1474.0,1036.1 1475.9,1034.2 1477.9,1034.5 1479.8,1032.3 1481.8,1032.9 1483.7,1031.6 1485.7,1032.2 1487.7,1031.7 1489.6,1033.4 1491.6,1032.5 1493.5,1034.4 1495.7,1033.5 1497.8,1035.2 1500.0,1034.7 1502.0,1036.3 1503.9,1035.5 1505.9,1036.7 1507.8,1036.0 1509.8,1037.4 1511.7,1036.6 1513.7,1037.8 1515.7,1037.1 1517.6,1038.4 1519.6,1037.4 1521.5,1038.7 1523.5,1037.7 1525.5,1039.2 1527.4,1038.2 1529.4,1039.8 1531.3,1039.0 1533.3,1040.2 1535.2,1039.5 1537.2,1040.6 1539.2,1039.7 1541.1,1040.8 1543.1,1039.5 1545.0,1040.5 1547.0,1039.4 1548.9,1040.3 1550.9,1038.8 1552.9,1039.4 1554.8,1038.1 1556.8,1038.9 1558.7,1037.5 1560.7,1038.3 1562.7,1037.2 1564.6,1038.0 1566.6,1036.8 1568.5,1037.9 1570.5,1036.8 1572.4,1037.7 1574.4,1036.5 1576.4,1037.9 1578.3,1036.5 1580.3,1037.7 1582.2,1036.7 1584.2,1038.1 1586.1,1037.0 1588.1,1038.4 1590.1,1037.5 1592.0,1038.6 1594.0,1038.3 1595.9,1040.0 1597.9,1039.3 1599.9,1041.1 1601.8,1040.6 1603.4,1042.6 1604.9,1042.6 1606.5,1044.6 1608.1,1044.4 1609.6,1046.4 1611.6,1045.9 1613.6,1047.4 1615.5,1046.6 1617.5,1048.0 1619.4,1047.3 1621.4,1048.0 1623.3,1046.4 1625.3,1046.6 1627.3,1045.2 1629.2,1045.4 1631.2,1043.8 1633.1,1044.4 1635.1,1042.6 1637.1,1043.1 1639.0,1041.7 1641.0,1043.7 1642.9,1043.4 1644.9,1045.7 1646.8,1045.4 1648.8,1047.0 1650.8,1046.4 1652.7,1047.9 1654.7,1047.5 1656.6,1047.9 1658.6,1046.4 1660.5,1046.7 1662.5,1045.2 1664.5,1045.6 1666.4,1044.0 1668.4,1044.3 1670.3,1042.8 1672.3,1043.2 1674.3,1041.4 1676.2,1043.7 1678.2,1043.4 1680.1,1045.6 1682.1,1045.6 1684.0,1047.4 1686.0,1047.0 1688.0,1048.6 1689.9,1048.5 1691.9,1048.8 1693.8,1047.0 1695.8,1047.3 1697.7,1045.6 1699.7,1047.1 1701.7,1046.5 1703.6,1048.0 1705.6,1047.5 1707.5,1048.2 1709.5,1046.5 1711.5,1047.3 1713.4,1045.9 1715.4,1046.6 1717.3,1046.6 1719.3,1048.4 1721.2,1048.4 1723.2,1050.5 1725.2,1049.1 1727.1,1049.5 1729.1,1048.0 1731.0,1048.6 1733.0,1047.0 1734.9,1047.4 1736.9,1047.3 1738.9,1049.2 1740.8,1048.9 1742.8,1050.7 1744.7,1050.4 1746.7,1051.5 1748.7,1050.9 1750.6,1052.0 1752.6,1051.2 1754.5,1052.3 1756.5,1051.2 1758.4,1052.1 1760.4,1050.8 1762.4,1051.5 1764.3,1050.5 1766.3,1051.7 1768.2,1051.0 1770.2,1052.3 1772.1,1051.9 1774.1,1053.0 1776.1,1052.5 1778.0,1052.2 1780.0,1050.4 1781.9,1050.5 1783.9,1048.4 1785.9,1048.5 1787.8,1048.4 1789.8,1050.5 1791.7,1050.3 1793.7,1052.3 1795.4,1052.6 1797.1,1054.7 1798.8,1055.0 1800.5,1057.2 1801.9,1055.2 1803.3,1055.0 1804.7,1052.8 1806.0,1052.5 1807.4,1050.3 1809.3,1050.9 1811.3,1049.6 1813.3,1049.8 1815.2,1048.5 1817.2,1050.3 1819.1,1050.3 1821.1,1052.3 1823.1,1052.5 1825.0,1052.8 1827.0,1051.4 1828.9,1051.9 1830.9,1050.4 1832.4,1050.2 1833.8,1048.0 1835.3,1047.6 1836.8,1045.4 1838.3,1047.9 1839.9,1048.4 1841.5,1050.6 1843.0,1050.9 1844.6,1053.5 1846.5,1053.3 1848.5,1054.7 1850.5,1054.6 1852.4,1056.2 1854.4,1055.0 1856.3,1055.9 1858.3,1054.8 1860.3,1055.5 1862.2,1054.3 1864.2,1054.8 1866.1,1053.3 1868.1,1053.5 1870.0,1052.1 1872.0,1052.4 1874.0,1051.3 1875.9,1052.1 1877.9,1050.8 1879.8,1051.6 1881.8,1050.5 1883.3,1052.8 1884.7,1053.4 1886.2,1055.9 1887.7,1056.3 1889.7,1057.4 1891.8,1056.6 1893.8,1057.9 1895.9,1057.1 1897.9,1058.1 1900.0,1057.6 1901.9,1058.0 1903.9,1056.6 1905.9,1057.0 1907.8,1055.5 1909.8,1056.0 1911.7,1054.7 1913.7,1055.4 1915.6,1053.9 1917.6,1054.6 1919.6,1053.9 1921.5,1054.8 1923.5,1054.2 1925.4,1055.2 1927.4,1054.7 1929.3,1056.6 1931.3,1056.6 1933.3,1058.5 1935.2,1058.4 1937.2,1059.5 1939.1,1058.9 1941.1,1060.1 1943.1,1059.6 1945.0,1059.7 1947.0,1058.4 1948.9,1058.6 1950.9,1057.2 1952.8,1057.5 1954.8,1055.7 1956.8,1055.9 1958.7,1054.4 1960.7,1054.5 1962.6,1053.2 1964.6,1053.5 1966.5,1052.2 1968.5,1052.6 1970.5,1051.5 1972.4,1052.1 1974.4,1051.1 1976.3,1051.8 1978.3,1050.6 1980.3,1051.5 1982.2,1050.6 1984.2,1051.5"/>
<polyline class="crv" stroke="#008080" stroke-width="10" points="145.9,331.6 146.7,337.0 147.5,335.1 148.3,340.8 149.1,339.3 149.9,344.8 150.7,341.9 151.5,349.1 152.3,345.9 153.1,352.1 153.9,349.9 154.7,355.9 155.6,354.1 156.5,359.3 157.4,357.7 158.4,364.0 159.3,360.6 160.2,367.5 161.1,364.3 162.0,370.4 163.5,365.6 165.0,368.6 166.4,362.7 167.9,366.6 169.4,360.1 170.4,362.8 171.5,357.1 172.5,360.1 173.6,353.9 174.6,356.2 175.7,350.6 176.7,352.7 177.9,346.6 179.1,350.1 180.2,343.5 181.4,345.9 182.6,339.5 182.9,342.5 183.1,335.5 183.4,338.8 183.7,332.0 184.0,334.2 184.2,327.8 184.5,330.2 184.8,324.3 185.2,325.9 185.7,319.4 186.1,321.5 186.5,316.3 187.0,318.1 187.9,312.1 188.8,314.5 189.6,308.4 190.5,310.7 191.4,304.2 192.3,307.1 193.1,301.5 194.0,303.6 194.8,297.8 195.7,300.3 196.5,294.7 197.1,297.4 197.6,291.1 198.2,293.4 198.7,286.7 199.3,289.2 199.8,284.1 200.4,285.7 200.9,279.5 202.2,285.8 203.5,283.1 204.8,288.4 206.1,286.1 207.2,291.9 208.3,290.0 209.4,295.8 210.5,292.6 211.0,299.7 211.5,296.3 212.0,303.3 212.5,300.7 213.0,306.0 213.5,303.3 214.0,310.6 214.5,308.0 215.0,314.8 215.5,311.7 216.0,318.6 216.5,316.2 217.0,321.9 217.5,320.0 218.1,325.8 218.6,324.1 218.9,330.9 219.3,328.3 219.7,333.9 220.1,332.9 220.4,338.3 220.8,336.1 221.2,342.8 221.6,340.7 222.1,346.2 222.5,343.7 223.0,350.4 223.4,348.4 223.8,353.7 224.3,352.4 224.7,357.8 225.1,355.6 225.4,361.8 225.8,360.5 226.2,366.2 226.6,364.2 227.0,370.9 227.4,368.4 228.0,374.1 228.7,371.2 229.3,377.6 230.0,374.5 230.6,381.2 231.3,379.1 231.9,384.8 232.6,382.9 233.2,388.4 233.9,386.3 234.5,392.7 235.2,389.4 235.8,396.0 236.4,394.1 237.1,399.5 237.7,397.7 238.4,403.2 239.0,401.4 239.6,407.8 240.3,405.3 240.9,410.5 241.6,408.1 242.2,415.0 242.6,411.9 243.1,418.8 243.5,416.1 244.0,423.2 244.4,420.3 244.8,427.3 245.3,424.7 245.7,430.5 246.1,429.1 246.5,435.5 246.9,432.3 247.3,439.7 247.7,437.0 248.1,443.4 248.6,440.5 249.0,447.4 249.7,444.3 250.4,450.8 251.1,448.0 251.8,454.6 252.5,452.1 253.2,458.5 253.9,454.9 254.6,461.0 255.3,458.4 256.0,465.7 256.6,462.4 257.3,468.1 258.0,465.7 258.7,471.8 259.4,469.2 260.1,476.1 260.8,473.9 261.4,479.1 262.2,476.9 263.0,483.3 263.8,480.6 264.6,487.5 265.4,485.0 266.2,490.2 267.0,487.9 267.4,493.9 267.8,491.6 268.1,497.7 268.5,495.4 268.9,502.1 269.2,498.9 269.6,505.5 270.2,502.7 270.7,509.0 271.3,506.9 271.8,513.1 272.4,510.6 273.0,517.5 273.5,515.0 274.4,520.9 275.2,518.9 276.1,523.6 276.9,521.6 277.7,527.5 278.6,524.6 279.4,531.0 280.3,529.1 281.1,534.7 281.9,532.3 282.8,538.8 283.6,537.1 284.5,543.1 285.3,540.1 286.5,545.7 287.6,543.6 288.8,549.2 290.0,546.4 291.2,552.2 293.1,549.6 295.1,554.4 297.1,550.7 299.0,555.9 301.0,553.7 302.9,558.5 304.9,554.7 306.9,560.3 307.7,557.9 308.5,564.1 309.4,560.9 310.2,566.5 311.1,564.1 311.9,570.0 312.7,568.2 313.6,574.4 314.4,572.0 315.3,578.3 316.1,576.2 316.9,582.3 317.8,580.1 318.6,585.3 319.2,583.7 319.7,589.5 320.3,587.5 320.9,594.1 321.4,591.3 322.0,596.9 322.5,595.6 323.5,601.2 324.5,598.7 325.5,604.6 326.5,602.0 327.5,607.1 328.4,605.5 330.4,610.3 332.4,606.7 334.3,611.5 336.3,605.7 338.2,609.4 340.2,604.1 342.2,607.4 343.1,605.1 344.1,611.1 345.1,608.2 346.1,614.3 347.1,611.7 348.0,617.5 349.3,614.1 350.7,619.8 352.0,617.1 353.3,621.9 354.6,619.3 355.9,624.8 356.9,619.1 357.8,621.2 358.8,616.5 359.8,618.0 360.8,612.4 361.8,614.8 363.2,609.7 364.7,613.0 366.2,608.1 367.6,611.1 369.2,608.2 370.8,613.1 372.4,610.9 373.9,616.4 375.5,613.5 377.5,618.3 379.4,615.3 381.4,619.8 383.3,617.6 384.6,619.2 385.9,613.9 387.3,617.5 388.6,611.4 389.9,614.9 391.2,608.6 393.1,611.8 395.1,607.1 397.1,610.2 399.0,605.2 401.0,608.8 402.9,603.0 404.9,606.9 406.9,601.8 407.8,603.6 408.8,597.2 409.8,599.8 410.8,593.3 412.7,597.3 414.7,592.4 416.7,596.1 418.2,592.8 419.8,598.0 421.4,594.6 422.9,600.5 424.5,597.6 426.0,600.1 427.5,595.6 428.9,598.6 430.4,592.9 431.6,596.5 432.8,590.6 434.1,593.0 435.3,587.2 436.5,593.0 437.6,590.8 438.8,595.8 440.0,594.2 441.2,599.5 442.2,597.2 443.1,603.5 444.1,601.5 445.1,607.8 446.1,605.1 448.0,609.8 450.0,607.7 452.0,612.8 453.9,608.6 455.9,612.7 457.8,607.1 459.8,610.0 461.8,605.7 463.2,607.5 464.7,602.6 466.2,605.4 467.6,598.9 468.8,605.3 470.0,602.9 471.2,607.8 472.4,605.9 473.5,611.8 474.5,609.2 475.5,614.8 476.5,611.9 477.5,617.8 478.4,614.8 479.4,620.7 481.4,616.0 483.3,618.7 485.3,614.5 487.3,616.6 488.1,611.6 488.9,613.3 489.8,608.6 490.6,611.0 491.5,604.9 492.3,607.5 493.1,601.1 494.1,604.0 495.1,597.9 496.1,601.0 497.1,594.3 498.0,597.4 499.0,591.4 500.3,594.5 501.6,588.6 502.9,591.7 504.2,586.3 505.6,588.6 506.9,583.2 508.4,588.9 510.0,586.5 511.6,590.9 513.1,587.9 514.7,593.3 516.3,591.0 518.0,596.4 519.6,593.0 521.2,598.6 522.9,596.2 524.5,601.3 525.3,599.7 526.1,605.4 526.9,603.3 527.6,609.0 528.4,606.6 529.2,611.6 530.0,609.3 530.8,615.9 531.6,613.6 532.4,619.1 533.7,616.4 535.0,621.9 536.3,619.3 537.6,624.7 538.9,621.0 540.2,627.1 542.2,622.4 544.1,627.4 546.1,623.0 548.0,627.3 550.0,622.5 551.3,628.3 552.6,626.0 553.9,631.0 555.2,627.7 556.5,633.2 557.8,630.6 558.7,636.9 559.5,634.0 560.4,639.2 561.2,637.3 562.0,642.8 562.9,640.4 563.7,646.7 565.2,643.7 566.7,648.9 568.1,645.3 569.6,650.2 571.6,645.1 573.5,648.9 575.5,643.1 577.5,646.9 578.9,641.4 580.4,644.8 581.9,639.5 583.3,642.6 584.1,640.0 584.9,646.3 585.7,645.0 586.5,650.6 587.3,648.4 588.4,653.8 589.6,651.1 590.8,656.2 592.0,654.3 593.1,658.7 594.3,653.6 595.5,656.9 596.7,650.9 597.8,653.3 599.0,647.9 600.4,651.2 601.8,645.3 603.1,647.1 604.5,641.7 605.9,644.7 607.3,641.6 608.6,646.3 610.0,643.8 611.4,648.7 612.7,646.5 614.7,650.0 616.7,646.6 618.6,650.9 620.6,646.2 622.5,650.4 624.5,645.9 626.5,649.1 628.4,644.8 630.4,647.9 632.4,644.8 634.3,649.4 636.3,644.8 638.2,649.6 640.2,645.7 642.2,650.2 644.1,646.3 646.1,651.4 648.0,647.9 650.0,652.0 651.7,647.9 653.2,650.5 654.7,644.4 656.2,647.3 657.6,642.1 659.3,645.0 660.9,639.7 662.5,642.9 663.9,639.9 665.3,645.0 666.6,642.3 668.0,647.2 669.4,644.9 670.5,649.6 671.7,647.8 672.9,653.5 674.1,651.1 675.2,656.5 676.6,651.5 678.0,654.4 679.4,649.1 680.7,651.0 682.1,646.7 683.8,651.3 685.5,647.1 687.2,652.2 688.9,648.3 690.4,653.3 691.9,651.4 693.4,656.6 694.8,653.6 696.3,656.5 697.8,652.0 699.2,654.8 700.7,649.7 702.4,653.0 704.1,648.0 705.8,651.1 707.5,646.2 709.3,651.5 711.1,648.4 712.8,653.0 714.6,649.8 716.4,654.5 718.3,649.8 720.3,652.6 722.2,647.7 724.2,650.0 726.1,646.1 728.1,648.5 730.1,644.2 732.0,647.7 734.0,642.3 735.9,647.2 737.9,643.8 739.9,648.9 741.8,646.7 743.0,652.2 744.2,648.6 745.3,654.6 746.5,651.3 747.7,656.6 749.6,653.0 751.6,657.9 753.6,653.7 755.5,658.5 757.0,653.2 758.5,654.8 759.9,650.2 761.4,652.2 763.1,647.8 764.8,651.3 766.5,647.0 768.2,650.6 769.6,647.5 771.0,653.7 772.4,651.6 773.7,656.2 775.1,654.5 776.7,659.1 778.4,656.7 780.0,661.7 781.2,656.4 782.3,658.7 783.5,653.6 784.7,656.0 785.9,649.8 787.6,653.1 789.3,649.0 791.0,652.6 792.7,647.7 794.7,651.2 796.6,648.7 798.6,653.1 800.5,649.0 802.5,654.5 804.5,650.8 806.4,654.9 808.4,652.4 810.3,656.2 812.3,651.9 814.3,655.0 816.2,651.4 818.2,654.2 820.1,649.4 822.1,652.2 824.0,647.7 826.0,651.1 828.0,647.7 829.9,652.5 831.4,649.9 832.9,654.7 834.3,652.9 835.8,658.2 837.4,654.9 838.9,660.4 840.5,657.2 842.1,662.8 843.6,660.4 845.2,662.9 846.8,657.6 848.3,660.6 849.9,655.1 851.5,657.6 853.0,653.3 854.6,656.5 856.2,651.7 857.7,653.7 859.3,649.6 861.2,654.0 863.2,651.3 865.2,655.9 867.1,652.7 869.1,657.1 871.0,654.4 872.6,657.1 874.2,651.8 875.7,655.1 877.3,649.0 878.9,652.0 880.6,647.3 882.3,649.8 884.0,644.6 885.7,647.2 887.4,643.7 889.1,648.5 890.9,645.6 892.6,649.9 894.5,645.9 896.5,650.4 898.4,645.8 900.4,649.9 902.4,646.1 903.9,651.6 905.5,649.2 907.1,654.2 908.6,650.6 910.2,655.7 912.1,652.7 914.1,658.4 916.1,655.0 918.0,660.1 920.0,657.4 921.9,659.8 923.9,655.6 925.9,659.1 927.8,654.3 929.8,657.1 931.7,653.3 933.7,657.0 935.6,652.1 937.6,656.8 939.6,652.5 941.5,655.3 943.5,651.2 945.4,653.8 947.4,648.7 949.3,652.6 950.2,647.1 951.0,648.8 951.9,643.7 952.7,645.5 953.5,639.4 954.4,641.9 955.2,636.1 956.6,639.9 958.0,633.8 959.3,636.6 960.7,631.4 962.1,635.1 962.9,632.0 963.8,638.0 964.6,637.1 965.4,642.2 966.3,640.4 967.1,646.3 967.9,644.9 968.8,650.5 969.6,648.1 970.4,654.4 971.2,652.2 972.0,658.2 972.8,655.9 974.8,659.6 976.8,656.2 978.7,659.7 979.9,655.1 981.0,657.4 982.1,651.9 983.3,654.0 984.4,649.0 985.6,651.4 987.3,648.5 989.0,652.9 990.7,650.0 992.4,654.7 994.4,651.1 996.3,655.5 998.3,651.7 1000.3,656.1 1002.2,652.2 1004.2,655.5 1006.1,651.2 1008.1,655.2 1010.0,651.6 1012.0,655.7 1014.0,652.3 1015.9,656.4 1017.9,653.2 1019.8,657.5 1021.8,653.5 1023.7,657.8 1025.7,653.9 1027.7,657.8 1029.3,654.6 1030.9,660.3 1032.6,656.9 1034.2,662.5 1035.8,659.1 1037.5,663.8 1038.7,661.5 1040.0,666.1 1042.0,661.7 1043.9,664.2 1045.9,659.8 1047.8,662.4 1049.8,657.8 1051.4,662.3 1053.1,659.3 1054.7,664.2 1056.3,661.0 1057.9,666.7 1059.6,663.6 1061.5,666.9 1063.5,662.2 1065.5,664.5 1067.4,659.7 1069.4,662.9 1071.2,660.9 1073.0,665.5 1074.8,662.5 1076.5,666.9 1078.3,663.5 1080.1,668.0 1081.8,663.5 1083.4,666.6 1085.0,661.1 1086.7,663.5 1088.3,658.8 1089.9,661.7 1091.7,659.0 1093.5,663.3 1095.2,660.7 1097.0,665.7 1098.7,663.9 1100.2,665.6 1101.7,660.4 1103.1,663.6 1104.6,658.3 1105.0,660.6 1105.4,654.1 1105.9,656.4 1106.3,650.9 1106.7,652.9 1107.1,647.3 1107.5,648.6 1109.0,643.5 1110.5,646.9 1112.1,641.9 1113.3,647.7 1114.6,644.7 1115.8,650.2 1117.1,647.5 1118.3,652.2 1118.9,650.8 1119.4,656.2 1120.0,655.1 1120.6,660.2 1121.1,658.9 1121.7,664.4 1122.2,662.2 1123.2,668.1 1124.2,664.9 1125.2,670.6 1126.1,668.1 1128.1,671.9 1130.1,667.0 1132.0,670.5 1134.0,665.8 1135.7,669.0 1137.4,663.5 1139.1,667.6 1140.8,662.1 1142.6,667.4 1144.4,664.1 1146.1,669.0 1147.9,665.1 1149.6,670.4 1151.6,666.7 1153.6,671.7 1155.5,668.1 1157.5,672.0 1159.4,669.3 1161.4,673.6 1163.3,669.6 1165.3,674.4 1166.9,669.6 1168.4,671.9 1170.0,667.4 1171.6,670.7 1173.1,665.5 1175.1,669.4 1177.1,666.0 1179.0,670.4 1181.0,666.8 1182.4,671.7 1183.9,668.9 1185.4,673.4 1186.8,670.0 1188.4,673.2 1190.0,668.0 1191.5,671.0 1193.1,666.8 1194.7,669.1 1196.4,664.9 1198.1,668.1 1199.8,663.1 1201.5,666.5 1202.9,663.1 1204.3,669.0 1205.6,665.6 1207.0,671.6 1208.4,667.8 1210.3,673.0 1212.3,669.5 1214.3,673.7 1216.2,670.0 1218.2,675.5 1220.1,671.8 1222.1,677.4 1224.0,674.0 1226.0,678.5 1228.0,675.4 1229.9,679.7 1231.2,674.7 1232.5,677.1 1233.8,672.8 1235.1,675.4 1236.4,669.2 1237.7,672.0 1239.5,668.1 1241.2,671.1 1242.9,665.8 1244.6,668.9 1246.3,666.2 1248.0,672.1 1249.7,669.0 1251.5,673.9 1253.4,671.0 1255.4,674.1 1257.3,670.9 1259.3,675.2 1261.2,671.1 1263.2,674.8 1265.2,670.9 1267.1,674.7 1269.1,671.1 1271.0,674.8 1273.0,671.8 1274.9,674.1 1276.9,669.5 1278.9,672.6 1280.8,668.9 1282.6,671.6 1284.3,667.3 1286.1,670.6 1287.9,665.9 1289.6,669.5 1291.4,665.5 1293.2,670.3 1294.9,667.0 1296.7,671.2 1298.4,668.6 1299.9,673.2 1301.4,670.9 1302.8,676.4 1304.3,674.0 1306.3,679.3 1308.2,675.8 1310.2,680.0 1312.1,677.4 1314.4,681.3 1316.7,677.9 1319.0,681.5 1320.4,676.5 1321.7,679.8 1323.1,674.2 1324.5,677.7 1325.9,672.0 1327.0,675.1 1328.2,669.3 1329.4,671.9 1330.6,666.4 1331.7,669.8 1333.7,666.1 1335.6,669.4 1337.6,666.5 1339.6,670.2 1341.5,666.9 1343.5,672.3 1345.4,668.9 1347.4,674.0 1349.3,669.6 1351.3,672.6 1353.3,668.2 1354.9,672.9 1356.5,670.8 1358.2,675.0 1359.8,672.2 1361.4,677.5 1363.1,674.4 1365.0,679.0 1367.0,674.6 1368.9,678.9 1370.9,675.5 1372.8,680.5 1374.8,675.6 1376.8,680.3 1378.7,676.3 1380.7,680.1 1382.6,676.0 1384.6,679.2 1386.5,674.6 1388.5,677.6 1390.5,672.2 1392.0,674.7 1393.6,670.5 1395.2,672.7 1396.7,668.4 1398.3,670.8 1400.3,668.0 1402.2,672.5 1404.2,669.2 1406.1,674.5 1408.1,671.3 1410.0,675.8 1412.0,672.1 1413.5,674.7 1414.9,669.3 1416.4,671.9 1417.9,667.5 1419.8,670.9 1421.8,666.7 1423.7,669.8 1425.7,664.9 1427.7,669.8 1429.6,666.6 1431.6,671.1 1433.5,667.8 1435.2,674.0 1436.8,671.2 1438.4,676.2 1440.0,673.4 1442.0,676.8 1443.9,673.9 1445.9,678.0 1447.8,674.0 1449.8,678.1 1451.4,673.6 1453.1,675.8 1454.7,671.4 1456.3,674.2 1457.9,668.9 1459.6,672.2 1461.1,669.7 1462.7,675.0 1464.3,671.6 1465.8,677.2 1467.4,673.9 1468.9,679.3 1470.3,676.9 1471.8,681.3 1473.3,678.9 1474.9,682.1 1476.4,676.3 1478.0,679.9 1479.5,674.4 1481.1,677.1 1483.1,672.7 1485.0,676.6 1487.0,673.4 1488.9,677.2 1490.9,673.1 1492.9,677.2 1494.8,673.6 1496.8,677.1 1498.7,673.6 1500.7,677.0 1502.7,673.6 1504.1,677.9 1505.6,675.0 1507.1,679.9 1508.5,677.5 1510.5,680.4 1512.4,675.8 1514.4,679.0 1516.4,675.0 1518.3,678.0 1520.3,674.0 1522.2,677.6 1524.2,674.0 1526.1,677.6 1528.1,673.8 1530.1,677.6 1532.0,673.6 1534.0,677.1 1535.9,673.6 1537.9,677.1 1539.9,673.0 1541.8,677.4 1543.8,672.9 1545.7,675.0 1547.7,670.6 1549.6,673.9 1551.6,669.4 1553.6,672.5 1555.5,668.5 1557.5,671.8 1559.4,667.5 1561.4,671.8 1563.3,669.3 1565.3,674.7 1567.3,671.0 1568.8,676.6 1570.4,673.1 1572.0,678.6 1573.5,676.1 1575.1,681.4 1577.1,677.3 1579.0,680.8 1581.0,676.8 1582.9,680.2 1584.9,677.1 1586.8,682.3 1588.8,679.6 1590.8,684.2 1592.2,678.2 1593.7,680.5 1595.2,675.5 1596.6,677.8 1597.6,672.3 1598.6,675.4 1599.6,669.9 1600.5,671.5 1601.5,666.0 1602.5,668.9 1604.3,662.9 1606.0,665.8 1607.8,661.9 1609.6,664.3 1611.3,659.2 1612.5,665.2 1613.6,662.4 1614.7,668.3 1615.9,665.0 1617.0,671.2 1618.2,668.2 1619.6,673.4 1621.1,671.0 1622.6,676.9 1624.0,673.7 1626.0,677.5 1628.0,674.3 1629.9,677.2 1631.9,673.5 1633.8,678.0 1635.8,675.7 1637.7,680.2 1639.7,677.2 1641.7,681.3 1643.6,678.6 1645.6,682.6 1647.5,679.6 1649.5,682.8 1651.5,678.2 1653.4,681.7 1655.4,677.2 1657.3,679.9 1659.3,675.5 1661.2,679.3 1663.2,675.0 1665.2,678.9 1667.1,674.6 1669.1,677.7 1671.0,672.6 1673.0,675.5 1674.9,671.2 1676.9,673.9 1678.7,669.5 1680.5,672.8 1682.3,668.3 1684.1,671.7 1685.9,666.6 1687.7,670.5 1689.4,667.8 1691.1,672.9 1692.8,669.8 1694.5,675.6 1696.5,670.4 1698.4,673.2 1700.4,668.0 1702.1,670.8 1703.8,666.1 1705.5,668.7 1707.3,663.6 1709.0,668.5 1710.8,665.2 1712.5,669.4 1714.3,666.4 1716.1,671.4 1717.6,668.2 1719.2,674.5 1720.8,671.5 1722.3,676.7 1723.9,674.0 1725.9,678.8 1727.8,675.6 1729.8,680.2 1731.7,676.7 1733.7,681.9 1735.6,677.6 1737.6,682.5 1739.6,678.3 1741.5,682.7 1743.1,677.6 1744.7,680.7 1746.2,676.6 1747.8,679.1 1749.3,674.6 1751.1,677.1 1752.8,672.6 1754.5,675.5 1756.2,671.4 1757.9,675.7 1759.6,672.2 1761.3,676.9 1763.1,674.2 1764.6,679.2 1766.2,676.9 1767.8,681.4 1769.3,679.1 1770.9,683.8 1772.8,679.8 1774.8,683.5 1776.8,679.4 1778.7,682.9 1780.3,678.0 1781.9,681.0 1783.4,676.6 1785.0,679.2 1786.5,674.3 1788.5,678.3 1790.5,674.3 1792.4,677.7 1794.4,673.8 1796.3,677.4 1798.3,672.9 1800.3,677.1 1802.2,672.7 1804.2,677.0 1806.1,672.7 1808.1,676.7 1810.0,671.3 1812.0,674.3 1814.0,669.7 1815.4,673.9 1816.9,672.1 1818.4,676.9 1819.8,674.5 1821.4,679.6 1823.0,676.9 1824.5,681.8 1826.1,678.5 1827.7,684.2 1829.2,678.4 1830.8,682.0 1832.4,676.1 1833.9,678.7 1835.5,674.2 1836.6,676.5 1837.8,671.4 1838.9,674.1 1840.1,668.3 1841.8,671.4 1843.6,667.4 1845.4,669.7 1847.1,665.3 1848.4,671.2 1849.7,668.7 1851.0,673.0 1852.3,671.2 1853.6,676.6 1854.9,673.9 1856.1,678.9 1857.2,676.1 1858.3,681.6 1859.4,679.4 1860.5,684.8 1861.7,682.5 1862.8,688.0 1864.1,683.3 1865.4,685.9 1866.7,680.3 1868.0,683.4 1869.3,677.6 1870.6,680.8 1872.2,675.1 1873.9,677.5 1875.5,673.5 1877.1,676.3 1878.8,670.5 1880.4,673.7 1882.4,669.3 1884.3,673.6 1886.3,669.9 1888.2,674.4 1890.2,671.0 1892.1,673.9 1894.1,669.0 1896.1,673.0 1898.0,668.2 1900.0,671.8 1901.9,668.2 1903.9,671.9 1905.9,667.7 1907.8,671.9 1909.8,667.4 1911.7,671.1 1913.7,666.9 1915.6,670.9 1917.6,666.5 1918.4,668.7 1919.3,663.5 1920.1,665.9 1921.0,660.0 1921.8,662.3 1922.6,656.8 1923.5,659.3 1924.8,653.6 1926.2,655.5 1927.6,650.3 1929.0,652.9 1930.3,646.7 1931.3,652.3 1932.3,650.6 1933.3,656.2 1934.2,653.8 1935.2,658.9 1936.2,657.5 1937.2,662.9 1937.8,660.5 1938.5,666.9 1939.1,665.1 1939.8,670.5 1940.4,668.9 1941.1,674.5 1943.1,671.8 1945.0,676.0 1947.0,673.4 1948.9,677.9 1950.9,673.1 1952.8,676.0 1954.8,671.7 1956.8,674.7 1958.7,670.6 1960.7,673.8 1962.6,669.7 1964.6,673.8 1966.5,669.3 1968.5,673.8 1970.5,669.0 1972.4,672.9 1974.4,669.6 1976.3,673.4 1978.3,669.8 1980.3,673.8 1982.2,669.6 1984.2,673.9"/>
<polyline class="crv" stroke="#ff00ff" stroke-width="9" points="145.9,68.2 146.9,77.7 147.8,71.1 148.8,81.4 149.8,74.5 150.8,84.6 151.7,79.2 152.7,86.9 153.7,80.6 154.7,90.6 155.4,84.2 156.0,93.3 156.7,89.0 157.4,97.4 158.1,92.7 158.8,102.0 159.4,97.6 160.1,105.1 160.8,100.9 161.5,110.3 162.1,103.7 162.8,112.6 163.5,107.5 164.3,116.3 165.1,111.5 166.0,120.0 166.8,116.5 167.6,125.2 168.5,119.7 169.3,127.5 170.1,121.8 171.6,132.2 173.0,126.2 174.5,135.3 176.0,128.6 176.1,138.1 176.3,133.2 176.5,142.6 176.6,136.1 176.8,146.6 177.0,139.6 177.1,149.1 177.3,144.6 177.4,152.7 177.9,149.0 178.4,156.4 178.9,152.6 179.4,161.5 179.9,157.1 180.4,165.5 180.9,160.3 181.4,168.7 181.9,163.2 182.3,173.0 182.7,168.2 183.1,176.9 183.5,171.3 183.9,179.9 184.3,174.7 184.7,183.8 185.1,179.1 185.5,189.4 186.6,184.4 187.7,192.9 188.8,187.3 189.9,196.2 191.8,190.6 193.6,196.5 195.4,191.7 197.3,199.9 197.9,194.3 198.5,203.2 199.2,196.6 199.8,207.4 200.4,201.6 201.0,210.0 201.7,205.0 202.9,214.4 204.1,209.3 205.3,217.8 206.6,211.3 207.8,221.5 209.0,216.3 209.6,225.2 210.1,219.8 210.7,227.6 211.2,222.4 211.8,232.5 212.3,226.6 212.9,236.2 213.4,229.9 213.9,238.6 214.5,234.1 215.0,242.1 215.5,238.4 216.0,245.8 216.6,240.9 217.1,251.4 217.8,246.0 218.6,253.5 219.3,248.4 220.0,258.6 220.8,253.7 222.6,259.7 224.4,252.6 226.3,260.2 228.1,252.1 229.9,258.1 231.8,251.1 233.6,257.3 235.4,249.3 236.9,256.8 238.4,250.3 239.9,258.7 241.3,253.2 242.8,263.0 244.3,255.9 245.7,265.1 247.2,259.4 248.7,266.8 250.1,261.8 251.6,270.1 253.4,263.9 255.1,271.7 256.9,264.8 258.6,274.9 260.4,267.2 262.5,274.9 264.5,267.6 266.6,274.9 268.6,267.0 270.7,273.4 272.5,267.8 274.2,274.9 276.0,269.6 277.7,278.4 279.5,270.2 281.3,279.1 283.0,272.3 284.8,279.7 286.5,274.3 288.3,280.7 289.5,272.0 290.7,279.0 291.8,269.9 293.0,275.9 294.2,266.1 295.8,272.9 297.5,263.8 299.1,270.5 300.8,261.8 302.4,270.4 304.1,264.6 305.7,272.5 307.4,266.1 309.2,275.3 311.1,269.3 312.9,278.1 314.7,270.8 316.2,276.9 317.7,269.2 319.1,273.9 320.6,265.7 321.6,271.0 322.6,261.9 323.6,267.9 324.5,258.1 325.5,264.4 326.5,255.3 327.5,260.7 328.4,251.0 329.4,257.6 330.4,248.4 331.4,254.2 332.4,243.9 333.7,250.6 335.0,240.5 336.3,247.9 337.7,238.2 339.0,243.8 340.3,238.6 341.6,247.1 342.9,239.7 344.3,249.0 345.6,242.8 347.0,252.0 348.5,245.1 350.0,253.2 351.5,247.3 352.9,256.4 355.0,249.0 357.0,256.6 359.1,249.7 361.1,258.0 363.2,250.3 364.7,259.6 366.1,254.5 367.6,261.4 369.1,256.5 371.0,264.8 373.0,259.0 374.9,266.9 376.1,257.6 377.3,262.6 378.5,255.0 379.6,260.0 380.8,252.9 382.7,257.3 384.5,250.2 386.3,255.2 388.2,248.2 389.9,254.7 391.7,249.4 393.5,257.1 395.2,250.9 397.0,259.3 398.8,251.5 400.6,257.8 402.5,249.7 404.3,254.5 405.8,246.9 407.3,252.2 408.7,244.9 410.2,250.7 411.7,242.0 413.5,247.7 415.3,241.1 417.2,247.5 419.0,240.9 420.5,249.1 421.9,243.5 423.4,253.0 424.9,245.6 426.3,254.6 428.2,246.8 430.0,254.7 432.0,247.8 433.9,254.1 435.9,247.8 437.8,255.5 439.5,248.5 441.3,258.8 443.0,251.7 444.7,260.0 446.1,251.2 447.4,256.9 448.8,250.4 450.2,255.7 451.5,247.0 453.3,252.9 455.0,245.5 456.7,253.0 458.4,244.6 460.3,252.1 462.3,246.4 464.3,253.2 466.2,246.3 466.9,252.4 467.5,242.7 468.2,249.9 468.8,239.9 469.5,244.9 470.1,235.5 471.1,242.1 472.1,233.5 473.1,238.6 474.1,229.2 475.0,235.8 477.0,228.5 478.9,234.4 480.9,227.5 482.9,234.1 484.8,226.8 486.8,233.4 488.7,226.1 490.7,235.0 492.7,228.7 494.6,235.4 496.6,229.1 498.3,237.2 500.0,229.1 501.7,236.7 503.4,231.1 504.8,235.7 506.2,226.9 507.5,233.2 508.9,224.9 510.3,230.8 512.2,222.8 514.2,229.8 516.1,221.3 518.1,227.2 520.1,219.3 522.0,225.6 523.0,217.2 524.0,222.4 525.0,214.4 525.9,219.5 526.9,210.8 527.9,215.9 529.9,207.6 531.8,214.4 533.8,207.1 535.7,213.1 537.7,206.9 539.6,215.1 540.8,205.0 542.0,211.6 543.2,204.0 544.3,209.4 545.5,200.4 547.5,207.3 549.4,199.4 551.4,206.9 553.3,199.3 554.5,205.8 555.6,196.6 556.8,201.8 557.9,192.7 559.1,198.5 560.2,190.9 561.4,196.7 562.6,188.3 563.7,193.6 564.9,183.8 566.1,189.6 567.2,184.6 568.4,193.3 569.5,186.2 570.6,194.9 571.8,190.0 572.9,198.7 574.2,193.1 575.5,201.5 576.8,197.1 578.1,205.3 579.5,199.0 580.8,207.5 581.9,203.4 583.0,212.1 584.1,205.3 585.2,214.9 586.4,209.9 587.5,218.1 588.6,211.0 590.2,218.8 591.7,208.9 593.3,214.1 594.9,205.8 596.4,211.7 597.6,203.5 598.8,210.5 599.9,200.6 601.1,206.1 602.3,198.7 604.3,206.3 606.2,199.0 608.2,205.7 610.1,198.5 611.1,203.1 612.1,194.8 613.1,199.6 614.0,192.6 615.0,197.0 616.0,189.4 617.5,193.4 618.9,185.8 620.4,192.2 621.9,182.5 623.3,188.4 624.8,180.8 626.5,188.7 628.2,182.9 630.0,191.5 631.7,184.7 633.6,192.1 635.6,185.9 637.5,192.2 638.7,187.1 639.9,195.5 641.1,189.9 642.2,199.6 643.4,193.3 645.4,201.5 647.3,195.4 649.3,202.9 651.2,196.9 653.5,204.3 655.8,197.0 658.1,203.7 659.5,196.5 660.8,201.5 662.2,192.7 663.6,198.3 664.9,190.0 666.4,196.7 667.9,188.9 669.4,194.3 670.8,186.4 672.4,192.9 674.0,187.4 675.5,195.1 677.1,188.7 678.7,197.6 679.6,192.6 680.6,201.8 681.6,196.8 682.6,205.3 683.5,200.4 684.5,207.7 685.2,202.3 685.8,212.7 686.5,207.7 687.1,215.4 687.8,210.1 688.4,220.5 690.4,213.3 692.4,221.3 694.3,215.7 695.5,221.0 696.7,213.0 697.8,217.4 699.0,208.7 700.2,213.9 701.8,206.0 703.3,210.8 704.9,202.3 706.5,209.1 708.0,199.6 710.0,207.3 711.9,199.5 713.9,207.4 715.9,200.1 717.8,208.0 719.8,200.6 721.7,208.4 723.7,202.7 725.6,208.4 727.3,201.9 728.9,206.5 730.5,198.5 732.2,205.4 733.8,196.8 735.4,202.5 736.7,197.7 738.0,206.9 739.3,200.0 740.7,208.6 742.0,203.0 743.3,210.5 745.2,204.3 747.2,209.4 749.1,202.7 751.1,208.7 753.1,200.5 754.0,209.3 755.0,205.0 756.0,212.8 757.0,208.5 757.9,216.1 758.9,211.6 760.5,219.1 762.1,214.0 763.6,222.0 765.2,215.2 766.8,224.0 768.7,215.9 770.7,224.1 772.6,217.0 774.6,225.3 776.5,218.4 778.5,225.4 780.5,219.0 782.4,226.7 784.4,219.4 786.3,226.9 788.3,221.8 790.3,228.0 791.4,221.0 792.6,225.3 793.8,217.9 795.0,224.4 796.1,215.2 797.4,223.0 798.7,217.6 800.0,225.6 801.3,219.7 802.7,229.1 804.0,223.5 804.9,231.0 805.9,225.7 806.9,235.7 807.9,229.0 808.9,237.9 809.8,231.6 811.8,239.7 813.7,235.4 815.7,243.2 817.7,236.7 819.6,243.7 821.7,236.7 823.8,244.2 825.8,235.3 827.9,241.5 830.0,234.8 832.0,241.2 833.9,235.1 835.9,244.0 837.8,237.0 839.8,243.9 841.7,237.9 843.7,243.4 845.7,237.1 846.8,244.8 847.9,240.7 849.1,248.8 850.2,243.8 851.4,251.3 852.5,247.7 854.2,255.3 855.9,248.4 857.7,255.3 859.4,248.9 860.9,254.7 862.5,247.2 864.1,251.9 865.6,244.8 867.2,250.0 869.2,242.4 871.1,251.1 873.1,243.5 875.0,251.3 876.2,247.3 877.4,255.1 878.6,249.5 879.7,258.3 880.9,252.8 882.9,260.5 884.8,253.1 886.8,262.0 888.7,254.9 890.7,262.5 892.7,255.8 894.6,264.0 896.6,259.3 898.5,265.9 900.5,260.8 902.4,268.4 904.4,260.7 905.6,266.4 906.7,258.6 907.9,262.4 909.1,254.9 910.3,258.9 911.7,251.5 913.2,257.4 914.7,249.4 916.1,253.9 918.1,247.3 920.1,253.9 922.0,248.3 924.0,254.4 925.9,247.9 927.5,252.8 929.1,245.5 930.6,250.9 932.2,242.5 933.8,249.1 934.9,239.6 936.1,246.5 937.3,237.2 938.5,243.6 939.6,235.1 941.6,242.1 943.6,233.3 945.5,241.1 946.1,234.5 946.7,244.5 947.4,239.4 948.0,248.6 948.6,243.0 949.2,251.1 949.8,247.6 950.4,255.1 951.4,251.1 952.4,260.1 953.3,255.0 954.3,262.7 955.3,257.9 956.8,264.2 958.2,256.5 959.7,260.3 961.2,253.3 963.1,259.4 965.1,251.8 967.1,260.6 967.9,254.0 968.7,262.5 969.6,257.8 970.4,266.1 971.2,261.3 972.1,268.8 972.9,264.2 974.9,271.5 976.8,262.6 978.8,268.7 980.4,261.1 981.9,266.5 983.5,258.4 985.1,264.7 986.6,255.6 988.6,264.4 990.5,257.7 992.5,263.8 994.5,256.4 996.4,264.5 998.4,256.9 1000.3,263.0 1002.3,254.7 1004.3,262.6 1006.2,254.7 1008.2,263.1 1010.1,255.1 1012.1,261.8 1013.8,255.4 1015.5,263.5 1017.2,257.9 1018.9,265.6 1020.7,257.7 1022.4,263.3 1024.1,255.3 1025.8,262.5 1027.7,254.8 1029.7,261.1 1031.7,255.0 1033.6,261.1 1035.6,255.4 1037.5,263.3 1039.5,257.0 1041.5,265.1 1043.0,259.9 1044.6,267.4 1046.2,261.0 1047.7,271.0 1049.3,263.6 1051.2,271.1 1053.2,263.2 1055.2,268.8 1057.1,260.7 1059.1,267.5 1061.0,260.4 1063.0,264.9 1064.9,259.0 1066.9,265.5 1068.9,256.9 1070.8,264.0 1073.1,256.5 1075.4,263.6 1077.7,256.1 1078.9,265.8 1080.1,259.2 1081.3,268.7 1082.6,262.6 1084.0,270.0 1085.5,265.3 1087.0,274.1 1088.4,268.9 1089.7,276.5 1091.1,271.2 1092.4,278.3 1094.3,272.1 1096.3,278.1 1098.2,270.7 1100.2,277.8 1101.7,271.4 1103.1,280.3 1104.6,272.5 1106.1,282.1 1107.5,272.7 1109.0,279.6 1110.5,271.1 1111.9,278.0 1112.9,268.5 1113.9,273.6 1114.9,264.0 1115.9,269.5 1118.3,262.3 1120.7,267.6 1122.1,263.6 1123.5,271.0 1124.9,265.3 1126.2,274.5 1127.6,267.8 1129.6,275.0 1131.5,267.4 1133.5,274.9 1135.4,267.8 1137.0,275.7 1138.6,270.1 1140.1,279.3 1141.7,272.0 1143.3,282.1 1144.4,275.1 1145.6,284.7 1146.8,277.7 1148.0,287.0 1149.1,281.6 1151.1,288.6 1153.1,281.1 1155.0,289.0 1157.0,281.9 1158.4,289.2 1159.9,281.2 1161.4,286.1 1162.8,279.2 1164.3,284.0 1165.8,275.8 1167.2,282.6 1168.7,272.3 1170.2,281.7 1171.7,275.8 1173.1,283.1 1174.6,277.6 1176.5,285.3 1178.5,277.6 1180.5,284.9 1182.4,277.2 1184.4,285.1 1186.3,279.4 1188.3,286.2 1190.3,279.7 1192.2,288.9 1194.2,282.6 1196.1,290.3 1198.1,281.4 1200.0,287.5 1202.0,280.9 1204.0,287.0 1205.9,278.8 1207.9,287.2 1209.8,278.5 1211.3,287.2 1212.8,281.6 1214.2,289.9 1215.7,283.1 1217.7,291.1 1219.6,285.3 1221.6,292.7 1223.5,284.9 1225.2,291.0 1226.8,284.2 1228.4,288.3 1230.0,280.5 1231.5,286.5 1232.9,278.3 1234.4,282.7 1235.9,274.6 1237.2,281.0 1238.6,272.0 1240.0,278.8 1241.4,271.0 1242.7,276.0 1244.1,269.8 1245.5,280.1 1246.8,274.0 1248.2,283.0 1249.6,276.4 1250.4,286.4 1251.3,280.6 1252.1,289.3 1252.9,282.7 1253.8,292.2 1254.6,287.6 1255.5,295.0 1256.8,288.0 1258.2,292.4 1259.6,285.7 1260.9,291.1 1262.3,283.4 1263.7,288.7 1265.0,279.0 1266.4,285.7 1267.8,275.7 1269.2,282.3 1271.1,274.9 1273.1,284.8 1275.0,277.4 1277.0,286.8 1278.4,281.1 1279.7,288.1 1281.1,284.3 1282.5,291.5 1283.8,286.8 1285.2,292.4 1286.6,283.8 1288.0,290.6 1289.3,282.7 1290.7,287.6 1292.7,279.6 1294.6,285.5 1296.6,278.5 1298.5,284.0 1300.5,277.2 1302.4,284.6 1304.4,277.3 1306.4,285.6 1308.3,276.8 1310.3,284.7 1312.2,278.6 1314.2,287.5 1316.1,281.0 1317.6,288.9 1319.1,284.6 1320.8,290.4 1322.5,282.1 1324.2,289.6 1325.9,280.9 1327.4,286.3 1328.9,278.7 1330.3,285.2 1331.8,276.1 1332.7,285.7 1333.5,280.5 1334.3,288.5 1335.2,282.7 1336.0,292.3 1336.8,287.7 1337.7,295.4 1339.3,287.8 1340.8,293.6 1342.4,285.8 1344.0,290.4 1345.5,283.4 1347.5,288.7 1349.4,279.6 1351.4,286.9 1352.6,281.3 1353.7,290.4 1354.9,284.6 1356.1,292.0 1357.3,285.9 1358.4,291.2 1359.6,283.2 1360.8,289.2 1362.0,282.0 1363.1,286.3 1365.1,280.0 1367.1,287.0 1369.0,280.3 1371.0,286.8 1372.5,282.4 1374.1,291.1 1375.7,284.3 1377.2,292.4 1378.8,287.4 1380.8,292.2 1382.7,283.6 1384.7,291.1 1386.6,282.6 1388.6,287.8 1390.5,280.8 1392.5,287.4 1394.5,280.0 1396.4,287.5 1398.4,279.5 1400.3,288.1 1402.3,281.0 1404.3,288.1 1406.2,283.6 1408.2,290.8 1410.1,283.7 1412.1,292.0 1414.0,283.9 1416.0,291.6 1418.0,282.8 1419.9,289.8 1421.9,280.1 1423.3,287.1 1424.8,278.4 1426.3,283.9 1427.7,274.9 1429.7,282.6 1431.7,273.2 1433.6,280.6 1435.6,273.9 1437.5,279.8 1439.5,272.5 1441.5,278.5 1442.3,273.3 1443.1,281.8 1443.9,277.9 1444.7,286.0 1445.5,281.7 1446.3,289.5 1447.6,283.4 1448.9,293.9 1450.1,288.2 1451.4,295.4 1452.6,290.3 1453.9,300.7 1455.2,294.1 1457.1,299.7 1459.1,292.9 1461.0,299.4 1463.0,289.5 1464.9,297.3 1466.9,292.5 1468.9,299.6 1470.8,293.8 1472.4,299.6 1474.0,290.9 1475.5,296.9 1477.1,288.6 1478.7,293.7 1480.6,284.5 1482.6,292.1 1484.5,284.4 1486.5,288.9 1488.4,282.3 1490.4,289.5 1492.4,282.9 1494.3,289.7 1496.3,282.4 1498.2,290.7 1499.9,282.1 1501.5,287.9 1503.1,280.1 1504.8,285.9 1506.4,277.2 1508.0,283.1 1509.3,278.1 1510.6,286.9 1511.9,281.6 1513.2,289.6 1514.5,283.4 1515.9,291.7 1517.8,283.8 1519.8,291.3 1521.7,284.0 1523.7,289.7 1525.3,282.6 1526.8,287.5 1528.4,280.0 1530.0,284.8 1531.5,278.1 1533.2,284.0 1534.9,275.9 1536.7,283.5 1538.4,275.0 1539.2,283.6 1540.0,277.7 1540.9,287.8 1541.7,280.5 1542.6,291.3 1543.4,285.2 1544.2,292.9 1545.4,287.2 1546.5,296.0 1547.7,291.5 1548.8,300.6 1550.0,294.6 1551.1,303.2 1552.2,293.7 1553.3,299.6 1554.5,291.1 1555.6,297.4 1556.7,288.6 1557.8,293.0 1558.9,284.6 1560.2,290.5 1561.5,282.5 1562.8,287.7 1564.1,280.2 1565.5,284.3 1566.8,277.0 1568.3,284.3 1569.9,278.1 1571.5,286.9 1573.0,281.9 1574.6,290.3 1575.5,283.9 1576.3,292.9 1577.2,287.4 1578.1,297.4 1578.9,292.1 1579.8,301.1 1580.7,296.1 1581.6,304.0 1582.4,298.4 1583.9,305.0 1585.4,296.0 1586.8,302.0 1588.3,295.1 1589.8,299.6 1591.2,291.9 1592.7,298.7 1594.2,291.4 1596.1,297.1 1598.1,290.7 1600.0,299.0 1602.0,291.6 1604.0,299.3 1605.9,293.7 1607.9,300.9 1609.8,294.9 1611.5,303.9 1613.3,297.5 1615.0,305.5 1616.7,299.3 1617.8,304.9 1619.0,297.8 1620.1,302.8 1621.3,294.5 1622.4,298.3 1623.5,290.5 1624.8,296.2 1626.1,286.2 1627.4,293.0 1628.7,284.6 1630.0,289.5 1631.5,282.3 1633.0,290.3 1634.6,284.4 1636.1,292.6 1637.6,287.3 1638.9,294.6 1640.2,289.6 1641.5,299.0 1642.8,292.6 1644.1,302.1 1645.5,297.4 1647.4,304.2 1649.4,299.2 1651.3,307.7 1653.3,301.2 1654.4,305.4 1655.6,298.0 1656.7,302.5 1657.9,294.9 1659.0,300.7 1660.1,291.5 1661.9,297.0 1663.6,290.1 1665.3,295.3 1667.0,286.5 1668.2,295.5 1669.3,289.9 1670.5,299.6 1671.7,293.9 1672.9,301.4 1674.8,294.8 1676.8,302.0 1678.7,293.9 1680.0,300.7 1681.3,291.8 1682.7,297.8 1684.0,288.9 1685.3,296.1 1686.6,287.3 1688.5,293.0 1690.5,286.9 1692.4,293.0 1694.4,285.1 1696.0,294.0 1697.5,288.4 1699.1,297.5 1700.7,290.5 1702.2,299.1 1704.2,292.9 1706.1,300.9 1708.1,295.6 1709.7,301.0 1711.2,291.7 1712.8,298.5 1714.4,291.0 1715.9,297.0 1717.6,287.5 1719.2,293.0 1720.8,283.5 1722.0,292.4 1723.1,287.8 1724.3,296.1 1725.4,292.0 1726.5,299.2 1727.7,294.3 1729.1,303.3 1730.4,297.1 1731.8,305.7 1733.2,301.4 1734.5,309.1 1736.0,300.4 1737.5,307.7 1738.9,297.8 1740.4,304.5 1741.9,296.9 1743.3,301.7 1744.9,293.9 1746.5,298.2 1748.0,290.5 1749.6,296.0 1751.2,288.7 1753.1,294.6 1755.1,286.0 1757.1,294.5 1759.0,286.0 1760.2,293.6 1761.4,288.1 1762.5,296.4 1763.7,291.3 1764.9,299.1 1766.1,293.4 1767.2,303.1 1768.4,297.6 1769.6,305.7 1770.8,300.5 1772.7,308.1 1774.7,299.5 1776.6,305.2 1777.8,296.9 1779.0,303.1 1780.2,293.6 1781.3,299.0 1782.5,289.0 1784.5,297.1 1786.4,290.2 1788.4,298.5 1790.3,292.6 1791.5,299.4 1792.7,293.6 1793.9,303.0 1795.0,297.4 1796.2,306.7 1797.4,300.1 1798.6,308.9 1799.7,303.8 1800.9,312.6 1802.1,307.0 1803.3,312.0 1804.4,302.8 1805.6,309.1 1806.8,301.0 1808.0,305.2 1809.4,297.0 1810.9,303.8 1812.4,295.8 1813.8,301.9 1815.4,295.5 1817.0,302.2 1818.5,297.6 1820.1,304.7 1821.7,298.4 1823.2,307.9 1824.8,302.1 1826.4,310.3 1827.9,305.0 1829.5,312.8 1831.2,306.8 1832.9,313.8 1834.6,308.6 1836.3,316.0 1838.1,308.1 1839.9,313.8 1841.6,305.3 1843.4,311.1 1845.2,302.3 1847.1,309.3 1849.1,301.0 1851.0,309.4 1853.0,301.5 1854.9,307.4 1856.9,299.1 1858.9,305.4 1860.8,298.4 1862.8,304.4 1864.7,295.7 1866.7,303.5 1868.7,297.2 1870.6,305.5 1872.6,297.8 1874.5,304.8 1876.5,298.0 1878.4,305.9 1880.4,298.7 1882.4,307.1 1883.9,298.8 1885.5,305.5 1887.1,296.3 1888.6,302.5 1890.2,294.3 1891.8,303.1 1893.3,296.7 1894.9,305.6 1896.5,298.8 1898.0,307.0 1899.0,302.2 1900.0,309.9 1901.0,304.7 1901.9,314.6 1902.9,307.8 1905.2,314.6 1907.5,308.4 1909.8,315.5 1911.3,308.1 1912.9,312.6 1914.5,304.0 1916.0,311.6 1917.6,303.1 1919.6,310.4 1921.5,302.3 1923.5,309.5 1925.4,302.3 1927.4,309.2 1929.3,303.1 1931.3,308.7 1933.3,302.3 1935.2,308.9 1937.2,300.1 1939.1,306.8 1941.1,298.8 1943.1,305.4 1945.0,298.2 1947.0,305.5 1948.1,300.0 1949.3,309.5 1950.5,303.5 1951.7,312.4 1952.8,307.4 1954.8,312.6 1956.8,304.8 1958.7,311.4 1960.7,305.5 1962.4,309.7 1964.1,302.0 1965.8,307.9 1967.5,300.7 1969.3,308.0 1971.1,300.8 1972.8,308.9 1974.6,302.1 1976.3,308.7 1978.3,302.6 1980.3,311.6 1982.2,304.3"/>
</g>
<g fill="#000">
<rect x="141.7" y="24.85" width="1842.6" height="6"/>
<rect x="149.9" y="30.8" width="1826.4" height="2.4" fill="#6a6a6a"/>
<rect x="141.7" y="1296.3" width="1842.6" height="10.7"/>
<rect x="141.7" y="24.85" width="8.3" height="1290.65"/>
<rect x="1976.2" y="24.85" width="8.1" height="1301.45"/>
<rect x="264.1" y="1300" width="8.4" height="26.3"/>
<rect x="385.4" y="1300" width="10.2" height="15.5"/>
<rect x="507.7" y="1300" width="10.2" height="26.3"/>
<rect x="629.9" y="1300" width="10.3" height="15.5"/>
<rect x="752.7" y="1300" width="9.3" height="26.3"/>
<rect x="875.5" y="1300" width="8.2" height="15.5"/>
<rect x="996.2" y="1300" width="11.3" height="26.3"/>
<rect x="1118.5" y="1300" width="11.3" height="15.5"/>
<rect x="1242.1" y="1300" width="8.5" height="26.3"/>
<rect x="1364.4" y="1300" width="8.6" height="15.5"/>
<rect x="1486.6" y="1300" width="8.6" height="26.3"/>
<rect x="1607.5" y="1300" width="11.3" height="15.5"/>
<rect x="1730.2" y="1300" width="10.6" height="26.3"/>
<rect x="1853.1" y="1300" width="9.2" height="15.5"/>
</g>
<text x="268.5" y="1408.4" font-size="82.3" text-anchor="middle">10</text>
<text x="513.0" y="1408.4" font-size="82.3" text-anchor="middle">20</text>
<text x="757.5" y="1408.4" font-size="82.3" text-anchor="middle">30</text>
<text x="1002.1" y="1408.4" font-size="82.3" text-anchor="middle">40</text>
<text x="1246.6" y="1408.4" font-size="82.3" text-anchor="middle">50</text>
<text x="1491.1" y="1408.4" font-size="82.3" text-anchor="middle">60</text>
<text x="1735.7" y="1408.4" font-size="82.3" text-anchor="middle">70</text>
<text x="1980.2" y="1408.4" font-size="82.3" text-anchor="middle">80</text>
<text y="1550" font-size="84"><tspan x="878">2 </tspan><tspan x="942" textLength="201" lengthAdjust="spacingAndGlyphs">Theta</tspan><tspan> </tspan><tspan x="1163" y="1545.6" font-size="77">(</tspan><tspan x="1190.5" y="1517" font-size="58">o</tspan><tspan x="1219.5" y="1545.6" font-size="77">)</tspan></text>
<text transform="translate(85,918.5) rotate(-90)" font-size="83" textLength="510" lengthAdjust="spacingAndGlyphs">Intensity (a.u.)</text>
<text x="1659.1" y="254.5" font-size="71" textLength="303.7" lengthAdjust="spacingAndGlyphs">PC1CNT3</text>
<text x="1600.6" y="620" font-size="71" textLength="357.5" lengthAdjust="spacingAndGlyphs">PC1CNT1.5</text>
<text x="1654.4" y="1015.3" font-size="71" textLength="296.7" lengthAdjust="spacingAndGlyphs">PC1CNT1</text>
<text x="1834.1" y="1133" font-size="71" textLength="117.0" lengthAdjust="spacingAndGlyphs">PC1</text>
<text x="1773.8" y="1247.3" font-size="71" textLength="183.8" lengthAdjust="spacingAndGlyphs">PVDF</text>
</svg>
</body></html>
